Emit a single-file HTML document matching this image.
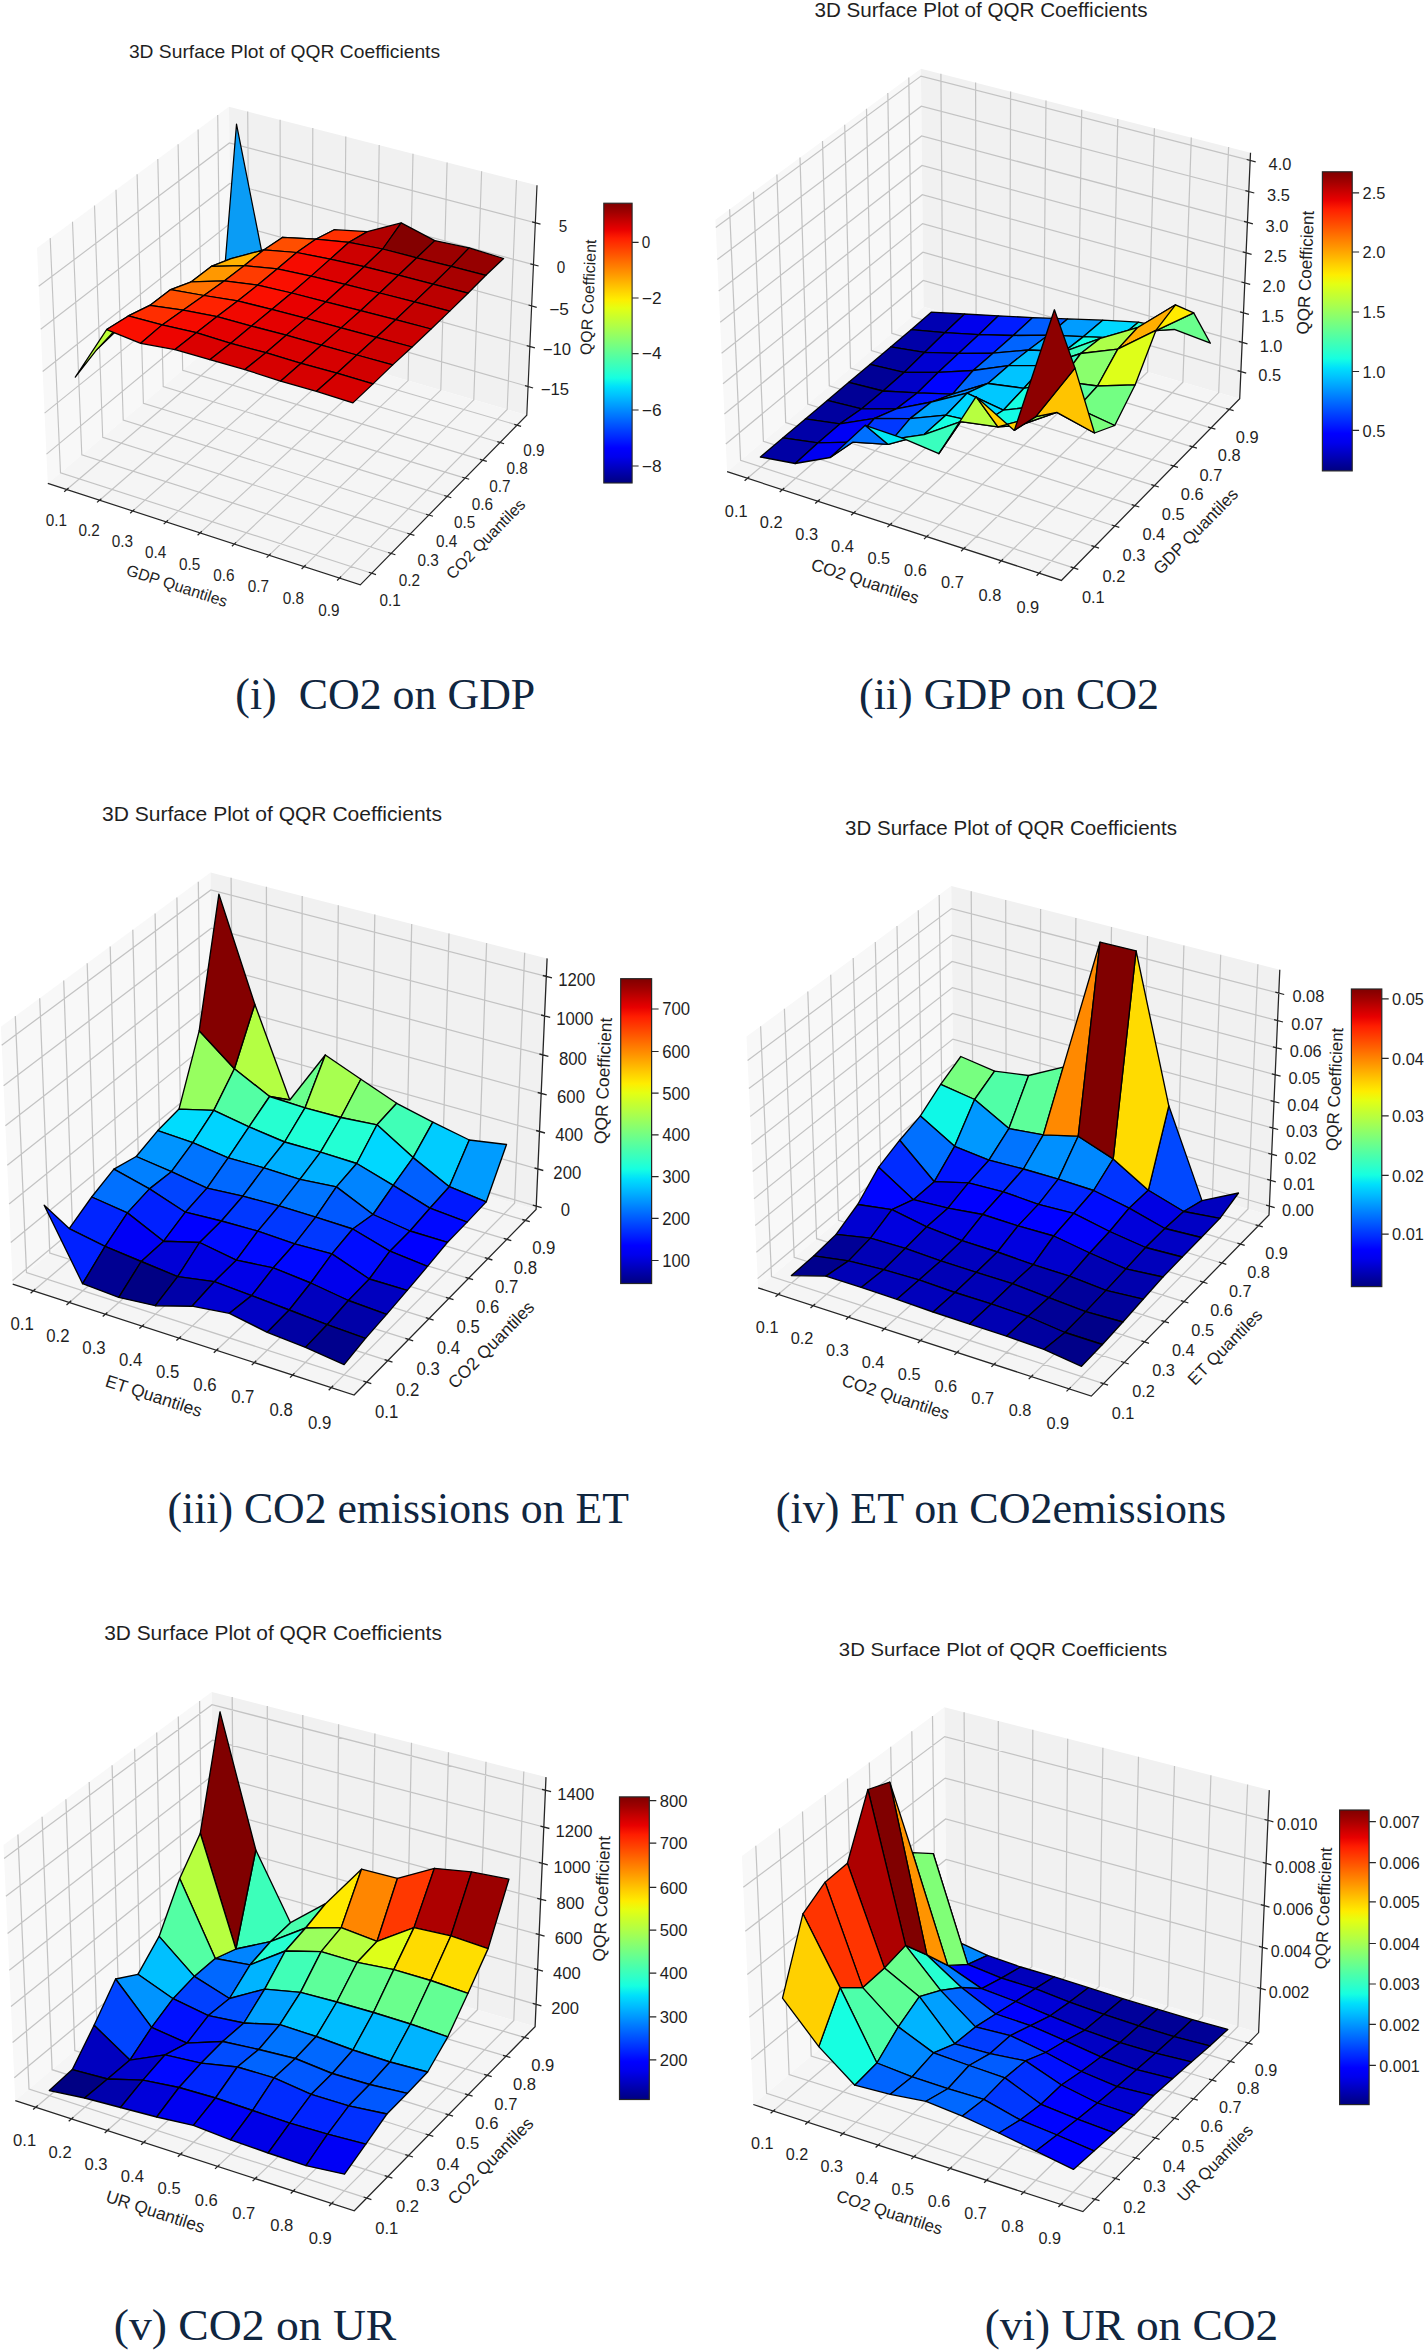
<!DOCTYPE html>
<html><head><meta charset="utf-8"><title>QQR surface plots</title><style>html,body{margin:0;padding:0;background:#fff}svg{display:block}text{font-family:"Liberation Sans",sans-serif}</style></head><body>
<svg width="1424" height="2351" viewBox="0 0 1424 2351">
<defs><linearGradient id="jet" x1="0" y1="0" x2="0" y2="1"><stop offset="0.000" stop-color="#800000"/><stop offset="0.031" stop-color="#9f0000"/><stop offset="0.062" stop-color="#c40000"/><stop offset="0.094" stop-color="#e80000"/><stop offset="0.125" stop-color="#ff1e00"/><stop offset="0.156" stop-color="#ff3b00"/><stop offset="0.188" stop-color="#ff5900"/><stop offset="0.219" stop-color="#ff7700"/><stop offset="0.250" stop-color="#ff9400"/><stop offset="0.281" stop-color="#ffb200"/><stop offset="0.312" stop-color="#ffd000"/><stop offset="0.344" stop-color="#feed00"/><stop offset="0.375" stop-color="#e4ff13"/><stop offset="0.406" stop-color="#caff2c"/><stop offset="0.438" stop-color="#b1ff46"/><stop offset="0.469" stop-color="#97ff60"/><stop offset="0.500" stop-color="#7dff7a"/><stop offset="0.531" stop-color="#63ff94"/><stop offset="0.562" stop-color="#49ffad"/><stop offset="0.594" stop-color="#30ffc7"/><stop offset="0.625" stop-color="#16ffe1"/><stop offset="0.656" stop-color="#00e0fb"/><stop offset="0.688" stop-color="#00c0ff"/><stop offset="0.719" stop-color="#00a0ff"/><stop offset="0.750" stop-color="#0080ff"/><stop offset="0.781" stop-color="#0060ff"/><stop offset="0.812" stop-color="#0040ff"/><stop offset="0.844" stop-color="#0020ff"/><stop offset="0.875" stop-color="#0000ff"/><stop offset="0.906" stop-color="#0000ed"/><stop offset="0.938" stop-color="#0000c8"/><stop offset="0.969" stop-color="#0000a4"/><stop offset="1.000" stop-color="#000080"/></linearGradient></defs>
<rect width="1424" height="2351" fill="#fff"/>
<g id="plot1">
<polygon points="47.8,483.4 231.4,329.3 229.0,106.8 37.0,247.9" fill="#f8f8f8"/>
<polygon points="231.4,329.3 526.8,415.2 537.0,185.3 229.0,106.8" fill="#f1f1f1"/>
<polygon points="47.8,483.4 360.3,584.9 526.8,415.2 231.4,329.3" fill="#f5f5f5"/>
<path d="M66.8,489.5 L249.4,334.5 L247.7,111.6 M50.2,238.1 L60.5,472.8 L371.8,573.2 M99.6,500.2 L280.5,343.6 L280.1,119.8 M72.5,221.7 L81.8,454.9 L391.2,553.5 M132.7,511.0 L311.9,352.7 L312.8,128.1 M94.5,205.6 L102.7,437.4 L410.2,534.1 M166.2,521.9 L343.7,361.9 L345.8,136.6 M116.0,189.8 L123.2,420.1 L428.8,515.1 M200.1,532.9 L375.7,371.2 L379.2,145.1 M137.1,174.3 L143.4,403.2 L447.2,496.4 M234.4,544.0 L408.1,380.6 L413.0,153.7 M157.8,159.1 L163.2,386.6 L465.1,478.1 M269.0,555.3 L440.8,390.1 L447.1,162.4 M178.1,144.2 L182.7,370.2 L482.8,460.1 M304.0,566.6 L473.8,399.8 L481.6,171.2 M198.1,129.5 L201.8,354.2 L500.1,442.5 M339.4,578.1 L507.2,409.5 L516.5,180.1 M217.7,115.1 L220.6,338.4 L517.1,425.1 M38.7,286.3 L229.4,143.0 L535.3,222.8 M40.7,329.2 L229.8,183.5 L533.5,264.6 M42.7,371.5 L230.3,223.4 L531.7,305.9 M44.6,413.1 L230.7,262.8 L529.9,346.5 M46.5,454.1 L231.1,301.5 L528.1,386.5" fill="none" stroke="#c3c3c3" stroke-width="1.15"/>
<g stroke="#000" stroke-width="1.24" stroke-linejoin="round">
<polygon points="219.6,331.5 250.8,301.3 269.6,291.2 236.5,124.2" fill="#0a9cf5"/>
<polygon points="250.8,301.3 282.8,237.3 301.5,278.8 269.6,291.2" fill="#0000ff"/>
<polygon points="199.5,290.4 231.1,258.7 250.8,301.3 219.6,331.5" fill="#000080"/>
<polygon points="282.8,237.3 315.7,239.2 334.3,229.7 301.5,278.8" fill="#dbff1c"/>
<polygon points="231.1,258.7 263.7,249.9 282.8,237.3 250.8,301.3" fill="#80ff77"/>
<polygon points="179.6,297.5 211.3,266.4 231.1,258.7 199.5,290.4" fill="#1cffdb"/>
<polygon points="315.7,239.2 349.0,242.3 367.4,231.6 334.3,229.7" fill="#ff3000"/>
<polygon points="263.7,249.9 296.7,252.5 315.7,239.2 282.8,237.3" fill="#ff4e00"/>
<polygon points="159.5,309.6 191.3,281.8 211.3,266.4 179.6,297.5" fill="#53ffa4"/>
<polygon points="211.3,266.4 244.1,265.7 263.7,249.9 231.1,258.7" fill="#ffb200"/>
<polygon points="349.0,242.3 382.7,249.0 401.2,222.9 367.4,231.6" fill="#b20000"/>
<polygon points="296.7,252.5 330.2,259.1 349.0,242.3 315.7,239.2" fill="#fa0f00"/>
<polygon points="382.7,249.0 416.8,257.8 434.8,240.6 401.2,222.9" fill="#840000"/>
<polygon points="244.1,265.7 277.4,268.8 296.7,252.5 263.7,249.9" fill="#ff3f00"/>
<polygon points="191.3,281.8 224.2,280.9 244.1,265.7 211.3,266.4" fill="#ff9800"/>
<polygon points="330.2,259.1 364.1,266.7 382.7,249.0 349.0,242.3" fill="#cd0000"/>
<polygon points="138.8,319.5 170.7,289.6 191.3,281.8 159.5,309.6" fill="#87ff70"/>
<polygon points="416.8,257.8 451.2,266.4 469.1,247.9 434.8,240.6" fill="#9b0000"/>
<polygon points="277.4,268.8 311.1,276.1 330.2,259.1 296.7,252.5" fill="#f60b00"/>
<polygon points="364.1,266.7 398.4,275.2 416.8,257.8 382.7,249.0" fill="#bb0000"/>
<polygon points="224.2,280.9 257.7,285.1 277.4,268.8 244.1,265.7" fill="#ff3b00"/>
<polygon points="451.2,266.4 485.9,275.3 503.6,258.5 469.1,247.9" fill="#960000"/>
<polygon points="311.1,276.1 345.2,284.3 364.1,266.7 330.2,259.1" fill="#da0000"/>
<polygon points="170.7,289.6 203.9,295.5 224.2,280.9 191.3,281.8" fill="#ff7300"/>
<polygon points="117.7,329.6 149.8,305.4 170.7,289.6 138.8,319.5" fill="#beff39"/>
<polygon points="398.4,275.2 433.0,284.2 451.2,266.4 416.8,257.8" fill="#b20000"/>
<polygon points="257.7,285.1 291.6,293.0 311.1,276.1 277.4,268.8" fill="#fa0f00"/>
<polygon points="345.2,284.3 379.6,293.0 398.4,275.2 364.1,266.7" fill="#cd0000"/>
<polygon points="203.9,295.5 237.6,300.9 257.7,285.1 224.2,280.9" fill="#ff3000"/>
<polygon points="433.0,284.2 468.0,293.2 485.9,275.3 451.2,266.4" fill="#a80000"/>
<polygon points="291.6,293.0 325.9,301.8 345.2,284.3 311.1,276.1" fill="#e80000"/>
<polygon points="149.8,305.4 183.3,310.1 203.9,295.5 170.7,289.6" fill="#ff4e00"/>
<polygon points="96.6,349.9 128.4,315.9 149.8,305.4 117.7,329.6" fill="#d7ff1f"/>
<polygon points="379.6,293.0 414.5,301.9 433.0,284.2 398.4,275.2" fill="#c40000"/>
<polygon points="237.6,300.9 271.7,309.4 291.6,293.0 257.7,285.1" fill="#fa0f00"/>
<polygon points="325.9,301.8 360.5,310.7 379.6,293.0 345.2,284.3" fill="#da0000"/>
<polygon points="183.3,310.1 217.1,316.6 237.6,300.9 203.9,295.5" fill="#ff2200"/>
<polygon points="414.5,301.9 449.7,311.1 468.0,293.2 433.0,284.2" fill="#bb0000"/>
<polygon points="271.7,309.4 306.2,318.4 325.9,301.8 291.6,293.0" fill="#e80000"/>
<polygon points="75.3,377.2 106.6,329.6 128.4,315.9 96.6,349.9" fill="#bdff39"/>
<polygon points="360.5,310.7 395.6,319.7 414.5,301.9 379.6,293.0" fill="#d10000"/>
<polygon points="128.4,315.9 162.1,324.9 183.3,310.1 149.8,305.4" fill="#ff2d00"/>
<polygon points="217.1,316.6 251.5,326.1 271.7,309.4 237.6,300.9" fill="#f10800"/>
<polygon points="306.2,318.4 341.1,327.9 360.5,310.7 325.9,301.8" fill="#df0000"/>
<polygon points="395.6,319.7 431.1,329.0 449.7,311.1 414.5,301.9" fill="#c40000"/>
<polygon points="162.1,324.9 196.3,332.7 217.1,316.6 183.3,310.1" fill="#f60b00"/>
<polygon points="251.5,326.1 286.2,335.2 306.2,318.4 271.7,309.4" fill="#e40000"/>
<polygon points="341.1,327.9 376.4,337.3 395.6,319.7 360.5,310.7" fill="#d60000"/>
<polygon points="106.6,329.6 140.7,343.3 162.1,324.9 128.4,315.9" fill="#fa0f00"/>
<polygon points="196.3,332.7 230.8,343.3 251.5,326.1 217.1,316.6" fill="#e40000"/>
<polygon points="286.2,335.2 321.3,345.2 341.1,327.9 306.2,318.4" fill="#da0000"/>
<polygon points="376.4,337.3 412.1,347.0 431.1,329.0 395.6,319.7" fill="#cd0000"/>
<polygon points="140.7,343.3 175.0,349.6 196.3,332.7 162.1,324.9" fill="#ed0400"/>
<polygon points="230.8,343.3 265.8,352.7 286.2,335.2 251.5,326.1" fill="#df0000"/>
<polygon points="321.3,345.2 356.8,355.0 376.4,337.3 341.1,327.9" fill="#d60000"/>
<polygon points="175.0,349.6 209.8,359.7 230.8,343.3 196.3,332.7" fill="#da0000"/>
<polygon points="265.8,352.7 301.1,363.3 321.3,345.2 286.2,335.2" fill="#da0000"/>
<polygon points="356.8,355.0 392.7,364.9 412.1,347.0 376.4,337.3" fill="#cd0000"/>
<polygon points="209.8,359.7 244.9,369.6 265.8,352.7 230.8,343.3" fill="#d60000"/>
<polygon points="301.1,363.3 336.9,373.2 356.8,355.0 321.3,345.2" fill="#d60000"/>
<polygon points="244.9,369.6 280.5,381.2 301.1,363.3 265.8,352.7" fill="#d60000"/>
<polygon points="336.9,373.2 373.0,383.9 392.7,364.9 356.8,355.0" fill="#d10000"/>
<polygon points="280.5,381.2 316.5,391.3 336.9,373.2 301.1,363.3" fill="#d60000"/>
<polygon points="316.5,391.3 352.9,402.9 373.0,383.9 336.9,373.2" fill="#d60000"/>
</g>
<path d="M47.8,483.4 L360.3,584.9 L526.8,415.2 L537.0,185.3 M64.2,491.7 L68.6,488.0 M376.0,574.6 L368.8,572.3 M97.0,502.4 L101.4,498.7 M395.4,554.8 L388.2,552.5 M130.2,513.2 L134.5,509.4 M414.4,535.4 L407.3,533.2 M163.7,524.1 L168.0,520.3 M433.0,516.3 L426.0,514.2 M197.6,535.2 L201.8,531.3 M451.3,497.7 L444.3,495.5 M231.9,546.3 L236.1,542.4 M469.2,479.3 L462.3,477.2 M266.6,557.6 L270.7,553.6 M486.8,461.3 L479.9,459.3 M301.6,569.0 L305.7,565.0 M504.1,443.7 L497.3,441.6 M337.1,580.5 L341.1,576.5 M521.1,426.3 L514.3,424.3 M540.5,224.1 L532.1,221.9 M538.6,266.0 L530.3,263.8 M536.7,307.3 L528.5,305.0 M534.9,347.9 L526.7,345.6 M533.1,388.0 L525.0,385.6" fill="none" stroke="#262626" stroke-width="1.20"/>
<text x="56.4" y="525.5" font-size="16.0" text-anchor="middle" fill="#1f1f1f" font-family="Liberation Sans" textLength="21.3" lengthAdjust="spacingAndGlyphs">0.1</text>
<text x="390.1" y="606.1" font-size="16.0" text-anchor="middle" fill="#1f1f1f" font-family="Liberation Sans" textLength="21.3" lengthAdjust="spacingAndGlyphs">0.1</text>
<text x="89.1" y="536.3" font-size="16.0" text-anchor="middle" fill="#1f1f1f" font-family="Liberation Sans" textLength="21.3" lengthAdjust="spacingAndGlyphs">0.2</text>
<text x="409.3" y="586.1" font-size="16.0" text-anchor="middle" fill="#1f1f1f" font-family="Liberation Sans" textLength="21.3" lengthAdjust="spacingAndGlyphs">0.2</text>
<text x="122.3" y="547.3" font-size="16.0" text-anchor="middle" fill="#1f1f1f" font-family="Liberation Sans" textLength="21.3" lengthAdjust="spacingAndGlyphs">0.3</text>
<text x="428.1" y="566.4" font-size="16.0" text-anchor="middle" fill="#1f1f1f" font-family="Liberation Sans" textLength="21.3" lengthAdjust="spacingAndGlyphs">0.3</text>
<text x="155.7" y="558.3" font-size="16.0" text-anchor="middle" fill="#1f1f1f" font-family="Liberation Sans" textLength="21.3" lengthAdjust="spacingAndGlyphs">0.4</text>
<text x="446.6" y="547.2" font-size="16.0" text-anchor="middle" fill="#1f1f1f" font-family="Liberation Sans" textLength="21.3" lengthAdjust="spacingAndGlyphs">0.4</text>
<text x="189.6" y="569.5" font-size="16.0" text-anchor="middle" fill="#1f1f1f" font-family="Liberation Sans" textLength="21.3" lengthAdjust="spacingAndGlyphs">0.5</text>
<text x="464.7" y="528.3" font-size="16.0" text-anchor="middle" fill="#1f1f1f" font-family="Liberation Sans" textLength="21.3" lengthAdjust="spacingAndGlyphs">0.5</text>
<text x="223.8" y="580.8" font-size="16.0" text-anchor="middle" fill="#1f1f1f" font-family="Liberation Sans" textLength="21.3" lengthAdjust="spacingAndGlyphs">0.6</text>
<text x="482.5" y="509.8" font-size="16.0" text-anchor="middle" fill="#1f1f1f" font-family="Liberation Sans" textLength="21.3" lengthAdjust="spacingAndGlyphs">0.6</text>
<text x="258.4" y="592.3" font-size="16.0" text-anchor="middle" fill="#1f1f1f" font-family="Liberation Sans" textLength="21.3" lengthAdjust="spacingAndGlyphs">0.7</text>
<text x="499.9" y="491.6" font-size="16.0" text-anchor="middle" fill="#1f1f1f" font-family="Liberation Sans" textLength="21.3" lengthAdjust="spacingAndGlyphs">0.7</text>
<text x="293.4" y="603.9" font-size="16.0" text-anchor="middle" fill="#1f1f1f" font-family="Liberation Sans" textLength="21.3" lengthAdjust="spacingAndGlyphs">0.8</text>
<text x="517.1" y="473.7" font-size="16.0" text-anchor="middle" fill="#1f1f1f" font-family="Liberation Sans" textLength="21.3" lengthAdjust="spacingAndGlyphs">0.8</text>
<text x="328.8" y="615.6" font-size="16.0" text-anchor="middle" fill="#1f1f1f" font-family="Liberation Sans" textLength="21.3" lengthAdjust="spacingAndGlyphs">0.9</text>
<text x="533.9" y="456.2" font-size="16.0" text-anchor="middle" fill="#1f1f1f" font-family="Liberation Sans" textLength="21.3" lengthAdjust="spacingAndGlyphs">0.9</text>
<text x="563.1" y="231.5" font-size="16.0" text-anchor="middle" fill="#1f1f1f" font-family="Liberation Sans" textLength="8.5" lengthAdjust="spacingAndGlyphs">5</text>
<text x="561.0" y="273.4" font-size="16.0" text-anchor="middle" fill="#1f1f1f" font-family="Liberation Sans" textLength="8.5" lengthAdjust="spacingAndGlyphs">0</text>
<text x="559.0" y="314.7" font-size="16.0" text-anchor="middle" fill="#1f1f1f" font-family="Liberation Sans" textLength="19.7" lengthAdjust="spacingAndGlyphs">−5</text>
<text x="557.0" y="355.4" font-size="16.0" text-anchor="middle" fill="#1f1f1f" font-family="Liberation Sans" textLength="28.3" lengthAdjust="spacingAndGlyphs">−10</text>
<text x="555.0" y="395.4" font-size="16.0" text-anchor="middle" fill="#1f1f1f" font-family="Liberation Sans" textLength="28.3" lengthAdjust="spacingAndGlyphs">−15</text>
<text x="177.1" y="591.2" font-size="16.0" text-anchor="middle" fill="#1f1f1f" font-family="Liberation Sans" textLength="105.1" lengthAdjust="spacingAndGlyphs" transform="rotate(18.0 177.1 585.4)">GDP Quantiles</text>
<text x="485.5" y="544.5" font-size="16.0" text-anchor="middle" fill="#1f1f1f" font-family="Liberation Sans" textLength="104.7" lengthAdjust="spacingAndGlyphs" transform="rotate(-45.5 485.5 538.8)">CO2 Quantiles</text>
<text x="588.0" y="303.1" font-size="16.0" text-anchor="middle" fill="#1f1f1f" font-family="Liberation Sans" textLength="115.7" lengthAdjust="spacingAndGlyphs" transform="rotate(-87.5 588.0 297.3)">QQR Coefficient</text>
<text x="284.5" y="57.5" font-size="18.1" text-anchor="middle" fill="#1f1f1f" font-family="Liberation Sans" textLength="311.2" lengthAdjust="spacingAndGlyphs">3D Surface Plot of QQR Coefficients</text>
<rect x="603.8" y="203.2" width="28.3" height="279.8" fill="url(#jet)" stroke="#262626" stroke-width="1.11"/>
<text x="641.8" y="248.2" font-size="16.0" text-anchor="start" fill="#1f1f1f" font-family="Liberation Sans" textLength="8.5" lengthAdjust="spacingAndGlyphs">0</text>
<text x="641.8" y="303.8" font-size="16.0" text-anchor="start" fill="#1f1f1f" font-family="Liberation Sans" textLength="19.7" lengthAdjust="spacingAndGlyphs">−2</text>
<text x="641.8" y="359.4" font-size="16.0" text-anchor="start" fill="#1f1f1f" font-family="Liberation Sans" textLength="19.7" lengthAdjust="spacingAndGlyphs">−4</text>
<text x="641.8" y="415.8" font-size="16.0" text-anchor="start" fill="#1f1f1f" font-family="Liberation Sans" textLength="19.7" lengthAdjust="spacingAndGlyphs">−6</text>
<text x="641.8" y="471.8" font-size="16.0" text-anchor="start" fill="#1f1f1f" font-family="Liberation Sans" textLength="19.7" lengthAdjust="spacingAndGlyphs">−8</text>
<path d="M632.1,242.4 h6.5 M632.1,298.0 h6.5 M632.1,353.6 h6.5 M632.1,410.0 h6.5 M632.1,466.0 h6.5" stroke="#262626" stroke-width="1.11"/>
</g>
<g id="plot2">
<polygon points="727.1,471.7 923.5,306.8 920.9,68.7 715.4,219.7" fill="#f8f8f8"/>
<polygon points="923.5,306.8 1239.7,398.7 1250.5,152.7 920.9,68.7" fill="#f1f1f1"/>
<polygon points="727.1,471.7 1061.4,580.4 1239.7,398.7 923.5,306.8" fill="#f5f5f5"/>
<path d="M747.4,478.3 L942.8,312.4 L940.9,73.8 M729.6,209.3 L740.6,460.4 L1073.7,567.9 M782.4,489.7 L976.1,322.1 L975.6,82.6 M753.5,191.7 L763.4,441.3 L1094.5,546.7 M817.9,501.2 L1009.7,331.9 L1010.6,91.6 M776.9,174.5 L785.7,422.5 L1114.8,526.0 M853.8,512.9 L1043.6,341.7 L1046.0,100.6 M800.0,157.6 L807.7,404.0 L1134.8,505.6 M890.0,524.7 L1077.9,351.7 L1081.7,109.7 M822.5,141.0 L829.3,385.9 L1154.4,485.7 M926.7,536.6 L1112.6,361.8 L1117.8,118.9 M844.7,124.7 L850.5,368.1 L1173.6,466.1 M963.7,548.7 L1147.6,372.0 L1154.4,128.2 M866.5,108.7 L871.4,350.6 L1192.5,446.8 M1001.2,560.8 L1182.9,382.2 L1191.3,137.6 M887.8,93.0 L891.8,333.4 L1211.0,427.9 M1039.1,573.2 L1218.7,392.6 L1228.6,147.1 M908.8,77.6 L911.9,316.6 L1229.2,409.4 M715.8,227.6 L921.0,76.1 L1250.2,160.4 M717.3,259.5 L921.3,106.2 L1248.8,191.5 M718.7,291.1 L921.6,136.0 L1247.5,222.3 M720.2,322.3 L922.0,165.5 L1246.1,252.8 M721.6,353.2 L922.3,194.7 L1244.8,282.9 M723.0,383.8 L922.6,223.6 L1243.5,312.8 M724.4,414.0 L922.9,252.2 L1242.2,342.3 M725.8,444.0 L923.2,280.5 L1240.9,371.6" fill="none" stroke="#c3c3c3" stroke-width="1.23"/>
<g stroke="#000" stroke-width="1.33" stroke-linejoin="round">
<polygon points="911.1,329.7 944.7,332.7 964.6,314.0 931.2,312.2" fill="#0000b2"/>
<polygon points="944.7,332.7 978.7,334.7 998.4,315.8 964.6,314.0" fill="#0000ed"/>
<polygon points="890.7,346.9 924.5,352.4 944.7,332.7 911.1,329.7" fill="#0000a8"/>
<polygon points="978.7,334.7 1013.2,335.5 1032.7,317.6 998.4,315.8" fill="#001cff"/>
<polygon points="924.5,352.4 958.7,353.3 978.7,334.7 944.7,332.7" fill="#0000df"/>
<polygon points="870.0,364.4 904.0,372.4 924.5,352.4 890.7,346.9" fill="#00009f"/>
<polygon points="1013.2,335.5 1048.1,335.2 1067.5,318.9 1032.7,317.6" fill="#005cff"/>
<polygon points="958.7,353.3 993.3,353.1 1013.2,335.5 978.7,334.7" fill="#0018ff"/>
<polygon points="904.0,372.4 938.3,372.3 958.7,353.3 924.5,352.4" fill="#0000d1"/>
<polygon points="848.8,382.3 883.0,391.0 904.0,372.4 870.0,364.4" fill="#000096"/>
<polygon points="1048.1,335.2 1083.5,336.6 1102.7,320.2 1067.5,318.9" fill="#009cff"/>
<polygon points="993.3,353.1 1028.4,350.0 1048.1,335.2 1013.2,335.5" fill="#0064ff"/>
<polygon points="938.3,372.3 973.1,370.5 993.3,353.1 958.7,353.3" fill="#0014ff"/>
<polygon points="883.0,391.0 917.5,392.8 938.3,372.3 904.0,372.4" fill="#0000c8"/>
<polygon points="1083.5,336.6 1119.4,338.1 1138.3,322.2 1102.7,320.2" fill="#00d8ff"/>
<polygon points="827.3,400.4 861.7,408.8 883.0,391.0 848.8,382.3" fill="#000096"/>
<polygon points="1028.4,350.0 1064.1,351.6 1083.5,336.6 1048.1,335.2" fill="#00acff"/>
<polygon points="973.1,370.5 1008.4,365.7 1028.4,350.0 993.3,353.1" fill="#006cff"/>
<polygon points="917.5,392.8 952.5,394.1 973.1,370.5 938.3,372.3" fill="#0004ff"/>
<polygon points="1119.4,338.1 1156.0,330.7 1174.3,329.4 1138.3,322.2" fill="#29ffce"/>
<polygon points="861.7,408.8 896.3,408.9 917.5,392.8 883.0,391.0" fill="#0000c8"/>
<polygon points="1064.1,351.6 1100.4,338.3 1119.4,338.1 1083.5,336.6" fill="#16ffe1"/>
<polygon points="805.4,418.9 839.9,423.9 861.7,408.8 827.3,400.4" fill="#00009f"/>
<polygon points="1008.4,365.7 1044.2,365.6 1064.1,351.6 1028.4,350.0" fill="#00c0ff"/>
<polygon points="952.5,394.1 987.9,383.5 1008.4,365.7 973.1,370.5" fill="#0068ff"/>
<polygon points="1156.0,330.7 1193.7,312.9 1210.4,343.2 1174.3,329.4" fill="#6aff8d"/>
<polygon points="896.3,408.9 931.4,402.0 952.5,394.1 917.5,392.8" fill="#0010ff"/>
<polygon points="839.9,423.9 874.6,418.3 896.3,408.9 861.7,408.8" fill="#0000e3"/>
<polygon points="1100.4,338.3 1137.4,327.7 1156.0,330.7 1119.4,338.1" fill="#7aff7d"/>
<polygon points="1044.2,365.6 1080.7,353.5 1100.4,338.3 1064.1,351.6" fill="#3cffba"/>
<polygon points="783.1,437.8 817.8,442.9 839.9,423.9 805.4,418.9" fill="#0000a8"/>
<polygon points="987.9,383.5 1023.9,388.3 1044.2,365.6 1008.4,365.7" fill="#00c4ff"/>
<polygon points="931.4,402.0 967.0,393.2 987.9,383.5 952.5,394.1" fill="#0084ff"/>
<polygon points="874.6,418.3 910.0,418.6 931.4,402.0 896.3,408.9" fill="#0038ff"/>
<polygon points="817.8,442.9 852.7,442.2 874.6,418.3 839.9,423.9" fill="#0000f6"/>
<polygon points="1137.4,327.7 1175.5,304.8 1193.7,312.9 1156.0,330.7" fill="#ffea00"/>
<polygon points="1080.7,353.5 1117.8,349.1 1137.4,327.7 1100.4,338.3" fill="#adff49"/>
<polygon points="1023.9,388.3 1060.5,381.1 1080.7,353.5 1044.2,365.6" fill="#36ffc1"/>
<polygon points="760.4,457.0 795.2,463.5 817.8,442.9 783.1,437.8" fill="#0000a4"/>
<polygon points="967.0,393.2 1003.3,410.2 1023.9,388.3 987.9,383.5" fill="#00c8ff"/>
<polygon points="910.0,418.6 945.8,415.2 967.0,393.2 931.4,402.0" fill="#00a4ff"/>
<polygon points="852.7,442.2 888.2,444.4 910.0,418.6 874.6,418.3" fill="#0038ff"/>
<polygon points="795.2,463.5 830.2,457.5 852.7,442.2 817.8,442.9" fill="#0000f1"/>
<polygon points="1060.5,381.1 1097.5,386.0 1117.8,349.1 1080.7,353.5" fill="#8aff6d"/>
<polygon points="1003.3,410.2 1040.0,406.1 1060.5,381.1 1023.9,388.3" fill="#16ffe1"/>
<polygon points="1117.8,349.1 1155.9,330.4 1175.5,304.8 1137.4,327.7" fill="#ffae00"/>
<polygon points="945.8,415.2 982.2,423.4 1003.3,410.2 967.0,393.2" fill="#00d8ff"/>
<polygon points="888.2,444.4 924.1,434.6 945.8,415.2 910.0,418.6" fill="#0098ff"/>
<polygon points="1040.0,406.1 1077.2,408.1 1097.5,386.0 1060.5,381.1" fill="#5aff9d"/>
<polygon points="1097.5,386.0 1135.2,384.8 1155.9,330.4 1117.8,349.1" fill="#deff19"/>
<polygon points="830.2,457.5 865.2,425.3 888.2,444.4 852.7,442.2" fill="#0070ff"/>
<polygon points="982.2,423.4 1019.2,425.5 1040.0,406.1 1003.3,410.2" fill="#13fce4"/>
<polygon points="924.1,434.6 960.7,421.6 982.2,423.4 945.8,415.2" fill="#16ffe1"/>
<polygon points="1077.2,408.1 1114.7,425.5 1135.2,384.8 1097.5,386.0" fill="#73ff83"/>
<polygon points="865.2,425.3 901.8,437.9 924.1,434.6 888.2,444.4" fill="#02e8f4"/>
<polygon points="1019.2,425.5 1056.8,412.3 1077.2,408.1 1040.0,406.1" fill="#60ff97"/>
<polygon points="960.7,421.6 997.9,426.8 1019.2,425.5 982.2,423.4" fill="#50ffa7"/>
<polygon points="1056.8,412.3 1094.5,433.0 1114.7,425.5 1077.2,408.1" fill="#7aff7d"/>
<polygon points="901.8,437.9 938.9,453.7 960.7,421.6 924.1,434.6" fill="#39ffbe"/>
<polygon points="997.9,426.8 1035.8,416.6 1056.8,412.3 1019.2,425.5" fill="#a0ff56"/>
<polygon points="938.9,453.7 976.1,396.7 997.9,426.8 960.7,421.6" fill="#b7ff40"/>
<polygon points="1035.8,416.6 1075.0,368.1 1094.5,433.0 1056.8,412.3" fill="#ffc400"/>
<polygon points="976.1,396.7 1014.3,430.4 1035.8,416.6 997.9,426.8" fill="#ffd000"/>
<polygon points="1014.3,430.4 1054.4,309.8 1075.0,368.1 1035.8,416.6" fill="#8d0000"/>
</g>
<path d="M727.1,471.7 L1061.4,580.4 L1239.7,398.7 L1250.5,152.7 M744.6,480.7 L749.3,476.7 M1078.3,569.3 L1070.6,566.9 M779.7,492.1 L784.3,488.1 M1099.0,548.2 L1091.4,545.7 M815.2,503.6 L819.8,499.6 M1119.3,527.4 L1111.7,525.0 M851.1,515.3 L855.6,511.2 M1139.3,507.0 L1131.7,504.7 M887.4,527.1 L891.9,523.0 M1158.8,487.0 L1151.3,484.7 M924.0,539.1 L928.5,534.9 M1178.0,467.4 L1170.6,465.1 M961.1,551.2 L965.5,546.9 M1196.9,448.1 L1189.5,445.9 M998.7,563.4 L1003.0,559.1 M1215.4,429.2 L1208.0,427.0 M1036.6,575.7 L1040.9,571.4 M1233.6,410.6 L1226.2,408.5 M1255.7,161.8 L1246.7,159.5 M1254.3,193.0 L1245.4,190.6 M1252.9,223.8 L1244.0,221.4 M1251.6,254.3 L1242.7,251.9 M1250.2,284.4 L1241.4,282.0 M1248.9,314.3 L1240.1,311.9 M1247.5,343.9 L1238.8,341.4 M1246.2,373.1 L1237.6,370.6" fill="none" stroke="#262626" stroke-width="1.28"/>
<text x="736.2" y="516.8" font-size="17.2" text-anchor="middle" fill="#1f1f1f" font-family="Liberation Sans" textLength="22.8" lengthAdjust="spacingAndGlyphs">0.1</text>
<text x="1093.3" y="603.0" font-size="17.2" text-anchor="middle" fill="#1f1f1f" font-family="Liberation Sans" textLength="22.8" lengthAdjust="spacingAndGlyphs">0.1</text>
<text x="771.2" y="528.4" font-size="17.2" text-anchor="middle" fill="#1f1f1f" font-family="Liberation Sans" textLength="22.8" lengthAdjust="spacingAndGlyphs">0.2</text>
<text x="1113.9" y="581.6" font-size="17.2" text-anchor="middle" fill="#1f1f1f" font-family="Liberation Sans" textLength="22.8" lengthAdjust="spacingAndGlyphs">0.2</text>
<text x="806.7" y="540.1" font-size="17.2" text-anchor="middle" fill="#1f1f1f" font-family="Liberation Sans" textLength="22.8" lengthAdjust="spacingAndGlyphs">0.3</text>
<text x="1134.0" y="560.6" font-size="17.2" text-anchor="middle" fill="#1f1f1f" font-family="Liberation Sans" textLength="22.8" lengthAdjust="spacingAndGlyphs">0.3</text>
<text x="842.5" y="551.9" font-size="17.2" text-anchor="middle" fill="#1f1f1f" font-family="Liberation Sans" textLength="22.8" lengthAdjust="spacingAndGlyphs">0.4</text>
<text x="1153.8" y="540.0" font-size="17.2" text-anchor="middle" fill="#1f1f1f" font-family="Liberation Sans" textLength="22.8" lengthAdjust="spacingAndGlyphs">0.4</text>
<text x="878.8" y="563.9" font-size="17.2" text-anchor="middle" fill="#1f1f1f" font-family="Liberation Sans" textLength="22.8" lengthAdjust="spacingAndGlyphs">0.5</text>
<text x="1173.2" y="519.8" font-size="17.2" text-anchor="middle" fill="#1f1f1f" font-family="Liberation Sans" textLength="22.8" lengthAdjust="spacingAndGlyphs">0.5</text>
<text x="915.4" y="576.0" font-size="17.2" text-anchor="middle" fill="#1f1f1f" font-family="Liberation Sans" textLength="22.8" lengthAdjust="spacingAndGlyphs">0.6</text>
<text x="1192.2" y="500.0" font-size="17.2" text-anchor="middle" fill="#1f1f1f" font-family="Liberation Sans" textLength="22.8" lengthAdjust="spacingAndGlyphs">0.6</text>
<text x="952.4" y="588.3" font-size="17.2" text-anchor="middle" fill="#1f1f1f" font-family="Liberation Sans" textLength="22.8" lengthAdjust="spacingAndGlyphs">0.7</text>
<text x="1210.9" y="480.5" font-size="17.2" text-anchor="middle" fill="#1f1f1f" font-family="Liberation Sans" textLength="22.8" lengthAdjust="spacingAndGlyphs">0.7</text>
<text x="989.9" y="600.7" font-size="17.2" text-anchor="middle" fill="#1f1f1f" font-family="Liberation Sans" textLength="22.8" lengthAdjust="spacingAndGlyphs">0.8</text>
<text x="1229.2" y="461.4" font-size="17.2" text-anchor="middle" fill="#1f1f1f" font-family="Liberation Sans" textLength="22.8" lengthAdjust="spacingAndGlyphs">0.8</text>
<text x="1027.8" y="613.2" font-size="17.2" text-anchor="middle" fill="#1f1f1f" font-family="Liberation Sans" textLength="22.8" lengthAdjust="spacingAndGlyphs">0.9</text>
<text x="1247.2" y="442.6" font-size="17.2" text-anchor="middle" fill="#1f1f1f" font-family="Liberation Sans" textLength="22.8" lengthAdjust="spacingAndGlyphs">0.9</text>
<text x="1280.0" y="169.7" font-size="17.2" text-anchor="middle" fill="#1f1f1f" font-family="Liberation Sans" textLength="22.8" lengthAdjust="spacingAndGlyphs">4.0</text>
<text x="1278.5" y="200.9" font-size="17.2" text-anchor="middle" fill="#1f1f1f" font-family="Liberation Sans" textLength="22.8" lengthAdjust="spacingAndGlyphs">3.5</text>
<text x="1277.0" y="231.7" font-size="17.2" text-anchor="middle" fill="#1f1f1f" font-family="Liberation Sans" textLength="22.8" lengthAdjust="spacingAndGlyphs">3.0</text>
<text x="1275.5" y="262.2" font-size="17.2" text-anchor="middle" fill="#1f1f1f" font-family="Liberation Sans" textLength="22.8" lengthAdjust="spacingAndGlyphs">2.5</text>
<text x="1274.0" y="292.4" font-size="17.2" text-anchor="middle" fill="#1f1f1f" font-family="Liberation Sans" textLength="22.8" lengthAdjust="spacingAndGlyphs">2.0</text>
<text x="1272.6" y="322.3" font-size="17.2" text-anchor="middle" fill="#1f1f1f" font-family="Liberation Sans" textLength="22.8" lengthAdjust="spacingAndGlyphs">1.5</text>
<text x="1271.1" y="351.8" font-size="17.2" text-anchor="middle" fill="#1f1f1f" font-family="Liberation Sans" textLength="22.8" lengthAdjust="spacingAndGlyphs">1.0</text>
<text x="1269.7" y="381.1" font-size="17.2" text-anchor="middle" fill="#1f1f1f" font-family="Liberation Sans" textLength="22.8" lengthAdjust="spacingAndGlyphs">0.5</text>
<text x="865.3" y="587.1" font-size="17.2" text-anchor="middle" fill="#1f1f1f" font-family="Liberation Sans" textLength="112.0" lengthAdjust="spacingAndGlyphs" transform="rotate(18.0 865.3 580.9)">CO2 Quantiles</text>
<text x="1195.4" y="537.2" font-size="17.2" text-anchor="middle" fill="#1f1f1f" font-family="Liberation Sans" textLength="112.5" lengthAdjust="spacingAndGlyphs" transform="rotate(-45.5 1195.4 531.0)">GDP Quantiles</text>
<text x="1305.1" y="278.8" font-size="17.2" text-anchor="middle" fill="#1f1f1f" font-family="Liberation Sans" textLength="123.8" lengthAdjust="spacingAndGlyphs" transform="rotate(-87.5 1305.1 272.6)">QQR Coefficient</text>
<text x="981.0" y="17.0" font-size="19.3" text-anchor="middle" fill="#1f1f1f" font-family="Liberation Sans" textLength="333.1" lengthAdjust="spacingAndGlyphs">3D Surface Plot of QQR Coefficients</text>
<rect x="1322.4" y="171.8" width="29.8" height="299.1" fill="url(#jet)" stroke="#262626" stroke-width="1.18"/>
<text x="1362.6" y="199.0" font-size="17.2" text-anchor="start" fill="#1f1f1f" font-family="Liberation Sans" textLength="22.8" lengthAdjust="spacingAndGlyphs">2.5</text>
<text x="1362.6" y="258.2" font-size="17.2" text-anchor="start" fill="#1f1f1f" font-family="Liberation Sans" textLength="22.8" lengthAdjust="spacingAndGlyphs">2.0</text>
<text x="1362.6" y="318.2" font-size="17.2" text-anchor="start" fill="#1f1f1f" font-family="Liberation Sans" textLength="22.8" lengthAdjust="spacingAndGlyphs">1.5</text>
<text x="1362.6" y="377.7" font-size="17.2" text-anchor="start" fill="#1f1f1f" font-family="Liberation Sans" textLength="22.8" lengthAdjust="spacingAndGlyphs">1.0</text>
<text x="1362.6" y="436.6" font-size="17.2" text-anchor="start" fill="#1f1f1f" font-family="Liberation Sans" textLength="22.8" lengthAdjust="spacingAndGlyphs">0.5</text>
<path d="M1352.2,192.8 h6.9 M1352.2,252.0 h6.9 M1352.2,312.0 h6.9 M1352.2,371.5 h6.9 M1352.2,430.4 h6.9" stroke="#262626" stroke-width="1.18"/>
</g>
<g id="plot3">
<polygon points="12.7,1284.1 213.3,1115.7 210.6,872.6 0.9,1026.8" fill="#f8f8f8"/>
<polygon points="213.3,1115.7 536.1,1209.5 547.1,958.4 210.6,872.6" fill="#f1f1f1"/>
<polygon points="12.7,1284.1 354.1,1395.0 536.1,1209.5 213.3,1115.7" fill="#f5f5f5"/>
<path d="M33.5,1290.8 L233.0,1121.5 L231.1,877.8 M15.3,1016.1 L26.5,1272.5 L366.7,1382.2 M69.3,1302.4 L266.9,1131.3 L266.4,886.8 M39.7,998.2 L49.8,1253.0 L387.8,1360.6 M105.5,1314.2 L301.3,1141.3 L302.2,896.0 M63.7,980.6 L72.7,1233.8 L408.6,1339.4 M142.1,1326.1 L335.9,1151.4 L338.3,905.2 M87.2,963.3 L95.1,1214.9 L429.0,1318.7 M179.1,1338.1 L370.9,1161.5 L374.8,914.5 M110.2,946.4 L117.1,1196.4 L449.0,1298.3 M216.5,1350.3 L406.3,1171.8 L411.7,923.9 M132.8,929.8 L138.8,1178.3 L468.6,1278.3 M254.4,1362.6 L442.0,1182.2 L449.0,933.4 M155.1,913.4 L160.1,1160.4 L487.9,1258.6 M292.6,1375.0 L478.1,1192.7 L486.6,943.0 M176.9,897.4 L181.0,1142.9 L506.8,1239.4 M331.3,1387.6 L514.6,1203.3 L524.7,952.7 M198.3,881.7 L201.5,1125.7 L525.4,1220.4 M1.7,1045.2 L210.8,890.0 L546.3,976.4 M3.6,1085.8 L211.2,928.2 L544.6,1015.9 M5.4,1125.7 L211.7,966.0 L542.9,1054.9 M7.3,1165.2 L212.1,1003.2 L541.2,1093.4 M9.1,1204.1 L212.5,1040.1 L539.5,1131.4 M10.8,1242.6 L212.9,1076.4 L537.9,1169.0 M12.6,1280.5 L213.3,1112.4 L536.2,1206.1" fill="none" stroke="#c3c3c3" stroke-width="1.26"/>
<g stroke="#000" stroke-width="1.36" stroke-linejoin="round">
<polygon points="234.4,1068.7 269.6,1096.5 289.8,1100.0 254.8,1004.2" fill="#b4ff43"/>
<polygon points="179.0,1109.1 213.8,1110.4 234.4,1068.7 199.2,1030.8" fill="#97ff60"/>
<polygon points="269.6,1096.5 305.0,1107.9 325.3,1055.0 289.8,1100.0" fill="#6aff8d"/>
<polygon points="199.2,1030.8 234.4,1068.7 254.8,1004.2 218.9,894.2" fill="#840000"/>
<polygon points="213.8,1110.4 249.0,1126.8 269.6,1096.5 234.4,1068.7" fill="#53ffa4"/>
<polygon points="157.8,1130.6 192.8,1142.6 213.8,1110.4 179.0,1109.1" fill="#00dcfe"/>
<polygon points="305.0,1107.9 340.8,1117.5 360.9,1079.3 325.3,1055.0" fill="#a7ff50"/>
<polygon points="249.0,1126.8 284.6,1142.0 305.0,1107.9 269.6,1096.5" fill="#26ffd1"/>
<polygon points="192.8,1142.6 228.2,1157.8 249.0,1126.8 213.8,1110.4" fill="#00d4ff"/>
<polygon points="340.8,1117.5 377.0,1124.8 396.7,1103.3 360.9,1079.3" fill="#80ff77"/>
<polygon points="136.2,1156.5 171.4,1171.7 192.8,1142.6 157.8,1130.6" fill="#0094ff"/>
<polygon points="284.6,1142.0 320.5,1152.1 340.8,1117.5 305.0,1107.9" fill="#1fffd7"/>
<polygon points="228.2,1157.8 263.9,1167.9 284.6,1142.0 249.0,1126.8" fill="#00b8ff"/>
<polygon points="377.0,1124.8 413.1,1157.6 432.8,1122.2 396.7,1103.3" fill="#40ffb7"/>
<polygon points="171.4,1171.7 207.0,1188.1 228.2,1157.8 192.8,1142.6" fill="#0074ff"/>
<polygon points="413.1,1157.6 449.3,1186.7 469.3,1140.0 432.8,1122.2" fill="#00ccff"/>
<polygon points="320.5,1152.1 356.7,1163.5 377.0,1124.8 340.8,1117.5" fill="#23ffd4"/>
<polygon points="263.9,1167.9 299.9,1179.3 320.5,1152.1 284.6,1142.0" fill="#00b0ff"/>
<polygon points="113.9,1169.2 149.5,1188.9 171.4,1171.7 136.2,1156.5" fill="#0080ff"/>
<polygon points="207.0,1188.1 242.8,1196.2 263.9,1167.9 228.2,1157.8" fill="#0068ff"/>
<polygon points="356.7,1163.5 393.2,1185.4 413.1,1157.6 377.0,1124.8" fill="#00d8ff"/>
<polygon points="449.3,1186.7 486.2,1201.9 506.5,1144.5 469.3,1140.0" fill="#009cff"/>
<polygon points="393.2,1185.4 429.9,1208.2 449.3,1186.7 413.1,1157.6" fill="#0060ff"/>
<polygon points="149.5,1188.9 185.4,1212.2 207.0,1188.1 171.4,1171.7" fill="#0044ff"/>
<polygon points="299.9,1179.3 336.4,1186.9 356.7,1163.5 320.5,1152.1" fill="#00b0ff"/>
<polygon points="242.8,1196.2 279.1,1205.8 299.9,1179.3 263.9,1167.9" fill="#0070ff"/>
<polygon points="429.9,1208.2 467.1,1222.1 486.2,1201.9 449.3,1186.7" fill="#0018ff"/>
<polygon points="336.4,1186.9 373.0,1214.5 393.2,1185.4 356.7,1163.5" fill="#0084ff"/>
<polygon points="185.4,1212.2 221.4,1221.0 242.8,1196.2 207.0,1188.1" fill="#002cff"/>
<polygon points="91.7,1197.0 127.4,1212.9 149.5,1188.9 113.9,1169.2" fill="#0070ff"/>
<polygon points="373.0,1214.5 410.0,1231.0 429.9,1208.2 393.2,1185.4" fill="#002cff"/>
<polygon points="279.1,1205.8 315.7,1217.2 336.4,1186.9 299.9,1179.3" fill="#0074ff"/>
<polygon points="127.4,1212.9 163.6,1241.2 185.4,1212.2 149.5,1188.9" fill="#0020ff"/>
<polygon points="221.4,1221.0 257.8,1231.1 279.1,1205.8 242.8,1196.2" fill="#0038ff"/>
<polygon points="410.0,1231.0 447.5,1242.3 467.1,1222.1 429.9,1208.2" fill="#0008ff"/>
<polygon points="69.2,1228.6 105.1,1246.3 127.4,1212.9 91.7,1197.0" fill="#0024ff"/>
<polygon points="315.7,1217.2 352.7,1229.0 373.0,1214.5 336.4,1186.9" fill="#0058ff"/>
<polygon points="163.6,1241.2 199.6,1242.5 221.4,1221.0 185.4,1212.2" fill="#0000ff"/>
<polygon points="257.8,1231.1 294.7,1243.8 315.7,1217.2 279.1,1205.8" fill="#0038ff"/>
<polygon points="105.1,1246.3 141.2,1261.5 163.6,1241.2 127.4,1212.9" fill="#0000f6"/>
<polygon points="352.7,1229.0 389.9,1251.2 410.0,1231.0 373.0,1214.5" fill="#001cff"/>
<polygon points="199.6,1242.5 236.3,1260.2 257.8,1231.1 221.4,1221.0" fill="#000cff"/>
<polygon points="389.9,1251.2 427.5,1266.4 447.5,1242.3 410.0,1231.0" fill="#0000ff"/>
<polygon points="294.7,1243.8 331.9,1253.9 352.7,1229.0 315.7,1217.2" fill="#0038ff"/>
<polygon points="141.2,1261.5 177.7,1276.6 199.6,1242.5 163.6,1241.2" fill="#0000d6"/>
<polygon points="44.2,1205.3 82.6,1283.7 105.1,1246.3 69.2,1228.6" fill="#0020ff"/>
<polygon points="82.6,1283.7 118.8,1297.4 141.2,1261.5 105.1,1246.3" fill="#000092"/>
<polygon points="236.3,1260.2 273.3,1267.8 294.7,1243.8 257.8,1231.1" fill="#0008ff"/>
<polygon points="331.9,1253.9 369.3,1279.0 389.9,1251.2 352.7,1229.0" fill="#000cff"/>
<polygon points="177.7,1276.6 214.3,1281.7 236.3,1260.2 199.6,1242.5" fill="#0000e3"/>
<polygon points="118.8,1297.4 155.3,1305.7 177.7,1276.6 141.2,1261.5" fill="#000084"/>
<polygon points="273.3,1267.8 310.7,1283.0 331.9,1253.9 294.7,1243.8" fill="#0008ff"/>
<polygon points="369.3,1279.0 407.2,1290.4 427.5,1266.4 389.9,1251.2" fill="#0000e3"/>
<polygon points="214.3,1281.7 251.6,1295.6 273.3,1267.8 236.3,1260.2" fill="#0000e8"/>
<polygon points="310.7,1283.0 348.4,1300.5 369.3,1279.0 331.9,1253.9" fill="#0000ed"/>
<polygon points="155.3,1305.7 192.0,1306.2 214.3,1281.7 177.7,1276.6" fill="#0000a8"/>
<polygon points="251.6,1295.6 289.2,1310.0 310.7,1283.0 273.3,1267.8" fill="#0000df"/>
<polygon points="348.4,1300.5 386.6,1314.4 407.2,1290.4 369.3,1279.0" fill="#0000bf"/>
<polygon points="192.0,1306.2 229.4,1313.3 251.6,1295.6 214.3,1281.7" fill="#0000d1"/>
<polygon points="289.2,1310.0 327.1,1324.7 348.4,1300.5 310.7,1283.0" fill="#0000bf"/>
<polygon points="229.4,1313.3 267.3,1332.3 289.2,1310.0 251.6,1295.6" fill="#0000c4"/>
<polygon points="327.1,1324.7 365.5,1338.4 386.6,1314.4 348.4,1300.5" fill="#0000a8"/>
<polygon points="267.3,1332.3 305.5,1347.4 327.1,1324.7 289.2,1310.0" fill="#0000a4"/>
<polygon points="305.5,1347.4 344.1,1364.6 365.5,1338.4 327.1,1324.7" fill="#00008d"/>
</g>
<path d="M12.7,1284.1 L354.1,1395.0 L536.1,1209.5 L547.1,958.4 M30.6,1293.2 L35.4,1289.1 M371.3,1383.7 L363.4,1381.2 M66.5,1304.9 L71.2,1300.8 M392.5,1362.1 L384.6,1359.6 M102.7,1316.6 L107.4,1312.5 M413.2,1340.9 L405.4,1338.4 M139.4,1328.6 L144.0,1324.4 M433.6,1320.1 L425.8,1317.7 M176.4,1340.6 L181.0,1336.4 M453.5,1299.7 L445.9,1297.3 M213.8,1352.8 L218.4,1348.5 M473.1,1279.6 L465.5,1277.3 M251.7,1365.1 L256.2,1360.8 M492.4,1260.0 L484.8,1257.7 M290.0,1377.6 L294.5,1373.2 M511.3,1240.7 L503.7,1238.4 M328.7,1390.2 L333.1,1385.8 M529.8,1221.7 L522.3,1219.5 M552.0,977.8 L542.8,975.5 M550.2,1017.4 L541.1,1015.0 M548.4,1056.4 L539.4,1054.0 M546.7,1094.9 L537.7,1092.5 M545.0,1133.0 L536.1,1130.5 M543.3,1170.5 L534.5,1168.0 M541.6,1207.6 L532.8,1205.1" fill="none" stroke="#262626" stroke-width="1.31"/>
<text x="22.1" y="1330.1" font-size="17.5" text-anchor="middle" fill="#1f1f1f" font-family="Liberation Sans" textLength="23.3" lengthAdjust="spacingAndGlyphs">0.1</text>
<text x="386.7" y="1418.1" font-size="17.5" text-anchor="middle" fill="#1f1f1f" font-family="Liberation Sans" textLength="23.3" lengthAdjust="spacingAndGlyphs">0.1</text>
<text x="57.9" y="1341.9" font-size="17.5" text-anchor="middle" fill="#1f1f1f" font-family="Liberation Sans" textLength="23.3" lengthAdjust="spacingAndGlyphs">0.2</text>
<text x="407.6" y="1396.3" font-size="17.5" text-anchor="middle" fill="#1f1f1f" font-family="Liberation Sans" textLength="23.3" lengthAdjust="spacingAndGlyphs">0.2</text>
<text x="94.0" y="1353.9" font-size="17.5" text-anchor="middle" fill="#1f1f1f" font-family="Liberation Sans" textLength="23.3" lengthAdjust="spacingAndGlyphs">0.3</text>
<text x="428.2" y="1374.8" font-size="17.5" text-anchor="middle" fill="#1f1f1f" font-family="Liberation Sans" textLength="23.3" lengthAdjust="spacingAndGlyphs">0.3</text>
<text x="130.6" y="1366.0" font-size="17.5" text-anchor="middle" fill="#1f1f1f" font-family="Liberation Sans" textLength="23.3" lengthAdjust="spacingAndGlyphs">0.4</text>
<text x="448.4" y="1353.8" font-size="17.5" text-anchor="middle" fill="#1f1f1f" font-family="Liberation Sans" textLength="23.3" lengthAdjust="spacingAndGlyphs">0.4</text>
<text x="167.6" y="1378.2" font-size="17.5" text-anchor="middle" fill="#1f1f1f" font-family="Liberation Sans" textLength="23.3" lengthAdjust="spacingAndGlyphs">0.5</text>
<text x="468.2" y="1333.2" font-size="17.5" text-anchor="middle" fill="#1f1f1f" font-family="Liberation Sans" textLength="23.3" lengthAdjust="spacingAndGlyphs">0.5</text>
<text x="205.0" y="1390.5" font-size="17.5" text-anchor="middle" fill="#1f1f1f" font-family="Liberation Sans" textLength="23.3" lengthAdjust="spacingAndGlyphs">0.6</text>
<text x="487.6" y="1312.9" font-size="17.5" text-anchor="middle" fill="#1f1f1f" font-family="Liberation Sans" textLength="23.3" lengthAdjust="spacingAndGlyphs">0.6</text>
<text x="242.8" y="1403.0" font-size="17.5" text-anchor="middle" fill="#1f1f1f" font-family="Liberation Sans" textLength="23.3" lengthAdjust="spacingAndGlyphs">0.7</text>
<text x="506.7" y="1293.0" font-size="17.5" text-anchor="middle" fill="#1f1f1f" font-family="Liberation Sans" textLength="23.3" lengthAdjust="spacingAndGlyphs">0.7</text>
<text x="281.1" y="1415.7" font-size="17.5" text-anchor="middle" fill="#1f1f1f" font-family="Liberation Sans" textLength="23.3" lengthAdjust="spacingAndGlyphs">0.8</text>
<text x="525.4" y="1273.5" font-size="17.5" text-anchor="middle" fill="#1f1f1f" font-family="Liberation Sans" textLength="23.3" lengthAdjust="spacingAndGlyphs">0.8</text>
<text x="319.7" y="1428.5" font-size="17.5" text-anchor="middle" fill="#1f1f1f" font-family="Liberation Sans" textLength="23.3" lengthAdjust="spacingAndGlyphs">0.9</text>
<text x="543.8" y="1254.3" font-size="17.5" text-anchor="middle" fill="#1f1f1f" font-family="Liberation Sans" textLength="23.3" lengthAdjust="spacingAndGlyphs">0.9</text>
<text x="576.8" y="985.9" font-size="17.5" text-anchor="middle" fill="#1f1f1f" font-family="Liberation Sans" textLength="37.2" lengthAdjust="spacingAndGlyphs">1200</text>
<text x="574.8" y="1025.4" font-size="17.5" text-anchor="middle" fill="#1f1f1f" font-family="Liberation Sans" textLength="37.2" lengthAdjust="spacingAndGlyphs">1000</text>
<text x="572.9" y="1064.5" font-size="17.5" text-anchor="middle" fill="#1f1f1f" font-family="Liberation Sans" textLength="27.9" lengthAdjust="spacingAndGlyphs">800</text>
<text x="571.0" y="1103.1" font-size="17.5" text-anchor="middle" fill="#1f1f1f" font-family="Liberation Sans" textLength="27.9" lengthAdjust="spacingAndGlyphs">600</text>
<text x="569.2" y="1141.1" font-size="17.5" text-anchor="middle" fill="#1f1f1f" font-family="Liberation Sans" textLength="27.9" lengthAdjust="spacingAndGlyphs">400</text>
<text x="567.3" y="1178.7" font-size="17.5" text-anchor="middle" fill="#1f1f1f" font-family="Liberation Sans" textLength="27.9" lengthAdjust="spacingAndGlyphs">200</text>
<text x="565.5" y="1215.8" font-size="17.5" text-anchor="middle" fill="#1f1f1f" font-family="Liberation Sans" textLength="9.3" lengthAdjust="spacingAndGlyphs">0</text>
<text x="153.9" y="1401.9" font-size="17.5" text-anchor="middle" fill="#1f1f1f" font-family="Liberation Sans" textLength="100.4" lengthAdjust="spacingAndGlyphs" transform="rotate(18.0 153.9 1395.6)">ET Quantiles</text>
<text x="490.9" y="1350.9" font-size="17.5" text-anchor="middle" fill="#1f1f1f" font-family="Liberation Sans" textLength="114.4" lengthAdjust="spacingAndGlyphs" transform="rotate(-45.5 490.9 1344.6)">CO2 Quantiles</text>
<text x="602.8" y="1087.1" font-size="17.5" text-anchor="middle" fill="#1f1f1f" font-family="Liberation Sans" textLength="126.4" lengthAdjust="spacingAndGlyphs" transform="rotate(-87.5 602.8 1080.8)">QQR Coefficient</text>
<text x="272.0" y="821.1" font-size="19.7" text-anchor="middle" fill="#1f1f1f" font-family="Liberation Sans" textLength="340.0" lengthAdjust="spacingAndGlyphs">3D Surface Plot of QQR Coefficients</text>
<rect x="620.7" y="978.7" width="30.9" height="304.8" fill="url(#jet)" stroke="#262626" stroke-width="1.21"/>
<text x="662.2" y="1015.3" font-size="17.5" text-anchor="start" fill="#1f1f1f" font-family="Liberation Sans" textLength="27.9" lengthAdjust="spacingAndGlyphs">700</text>
<text x="662.2" y="1057.8" font-size="17.5" text-anchor="start" fill="#1f1f1f" font-family="Liberation Sans" textLength="27.9" lengthAdjust="spacingAndGlyphs">600</text>
<text x="662.2" y="1099.5" font-size="17.5" text-anchor="start" fill="#1f1f1f" font-family="Liberation Sans" textLength="27.9" lengthAdjust="spacingAndGlyphs">500</text>
<text x="662.2" y="1141.2" font-size="17.5" text-anchor="start" fill="#1f1f1f" font-family="Liberation Sans" textLength="27.9" lengthAdjust="spacingAndGlyphs">400</text>
<text x="662.2" y="1182.9" font-size="17.5" text-anchor="start" fill="#1f1f1f" font-family="Liberation Sans" textLength="27.9" lengthAdjust="spacingAndGlyphs">300</text>
<text x="662.2" y="1224.6" font-size="17.5" text-anchor="start" fill="#1f1f1f" font-family="Liberation Sans" textLength="27.9" lengthAdjust="spacingAndGlyphs">200</text>
<text x="662.2" y="1266.8" font-size="17.5" text-anchor="start" fill="#1f1f1f" font-family="Liberation Sans" textLength="27.9" lengthAdjust="spacingAndGlyphs">100</text>
<path d="M651.6,1009.0 h7.0 M651.6,1051.5 h7.0 M651.6,1093.2 h7.0 M651.6,1134.9 h7.0 M651.6,1176.6 h7.0 M651.6,1218.3 h7.0 M651.6,1260.5 h7.0" stroke="#262626" stroke-width="1.21"/>
</g>
<g id="plot4">
<polygon points="758.1,1287.8 953.9,1123.5 951.2,886.1 746.5,1036.6" fill="#f8f8f8"/>
<polygon points="953.9,1123.5 1269.0,1215.0 1279.8,969.8 951.2,886.1" fill="#f1f1f1"/>
<polygon points="758.1,1287.8 1091.3,1396.1 1269.0,1215.0 953.9,1123.5" fill="#f5f5f5"/>
<path d="M778.3,1294.3 L973.1,1129.0 L971.2,891.2 M760.6,1026.2 L771.5,1276.5 L1103.6,1383.6 M813.3,1305.7 L1006.2,1138.7 L1005.7,900.0 M784.4,1008.7 L794.2,1257.4 L1124.2,1362.5 M848.6,1317.2 L1039.7,1148.4 L1040.6,908.9 M807.8,991.5 L816.6,1238.7 L1144.5,1341.8 M884.3,1328.8 L1073.6,1158.2 L1075.9,917.9 M830.7,974.7 L838.5,1220.3 L1164.4,1321.6 M920.5,1340.6 L1107.8,1168.2 L1111.5,927.0 M853.2,958.1 L860.0,1202.2 L1184.0,1301.7 M957.0,1352.4 L1142.3,1178.2 L1147.5,936.1 M875.3,941.9 L881.1,1184.5 L1203.1,1282.1 M994.0,1364.4 L1177.2,1188.3 L1183.9,945.4 M897.0,926.0 L901.9,1167.1 L1221.9,1263.0 M1031.3,1376.6 L1212.4,1198.6 L1220.7,954.8 M918.3,910.3 L922.3,1150.0 L1240.4,1244.1 M1069.1,1388.9 L1248.0,1208.9 L1257.9,964.3 M939.2,894.9 L942.3,1133.1 L1258.5,1225.6 M747.6,1060.4 L951.5,908.6 L1278.7,993.1 M748.9,1088.6 L951.8,935.1 L1277.5,1020.6 M750.2,1116.5 L952.1,961.5 L1276.3,1047.8 M751.4,1144.2 L952.4,987.6 L1275.1,1074.8 M752.7,1171.6 L952.6,1013.5 L1274.0,1101.5 M754.0,1198.7 L952.9,1039.1 L1272.8,1128.0 M755.2,1225.6 L953.2,1064.5 L1271.6,1154.2 M756.4,1252.2 L953.5,1089.7 L1270.5,1180.3 M757.6,1278.6 L953.8,1114.7 L1269.4,1206.0" fill="none" stroke="#c3c3c3" stroke-width="1.23"/>
<g stroke="#000" stroke-width="1.33" stroke-linejoin="round">
<polygon points="940.7,1084.3 974.6,1099.5 994.6,1071.2 960.8,1056.5" fill="#77ff80"/>
<polygon points="974.6,1099.5 1008.9,1128.6 1028.6,1075.5 994.6,1071.2" fill="#50ffa7"/>
<polygon points="920.4,1115.9 954.6,1146.3 974.6,1099.5 940.7,1084.3" fill="#0ff8e7"/>
<polygon points="954.6,1146.3 988.9,1160.2 1008.9,1128.6 974.6,1099.5" fill="#0098ff"/>
<polygon points="1008.9,1128.6 1043.3,1134.9 1063.2,1067.1 1028.6,1075.5" fill="#5dff9a"/>
<polygon points="899.7,1140.2 934.3,1181.7 954.6,1146.3 920.4,1115.9" fill="#0070ff"/>
<polygon points="988.9,1160.2 1023.4,1169.0 1043.3,1134.9 1008.9,1128.6" fill="#0074ff"/>
<polygon points="934.3,1181.7 968.5,1182.9 988.9,1160.2 954.6,1146.3" fill="#0014ff"/>
<polygon points="1023.4,1169.0 1058.3,1179.1 1078.2,1136.2 1043.3,1134.9" fill="#0090ff"/>
<polygon points="878.7,1167.2 913.4,1199.7 934.3,1181.7 899.7,1140.2" fill="#002cff"/>
<polygon points="968.5,1182.9 1003.3,1191.8 1023.4,1169.0 988.9,1160.2" fill="#0024ff"/>
<polygon points="1043.3,1134.9 1078.2,1136.2 1100.0,942.2 1063.2,1067.1" fill="#ff8900"/>
<polygon points="913.4,1199.7 947.9,1208.2 968.5,1182.9 934.3,1181.7" fill="#0000e8"/>
<polygon points="1148.3,1190.3 1183.7,1211.5 1202.0,1200.6 1168.8,1105.8" fill="#0048ff"/>
<polygon points="1058.3,1179.1 1093.6,1190.5 1113.2,1158.9 1078.2,1136.2" fill="#0088ff"/>
<polygon points="1003.3,1191.8 1038.4,1204.4 1058.3,1179.1 1023.4,1169.0" fill="#0028ff"/>
<polygon points="1183.7,1211.5 1219.9,1218.3 1238.5,1193.0 1202.0,1200.6" fill="#0000bf"/>
<polygon points="857.7,1204.5 891.9,1209.6 913.4,1199.7 878.7,1167.2" fill="#0004ff"/>
<polygon points="1093.6,1190.5 1129.1,1208.2 1148.3,1190.3 1113.2,1158.9" fill="#0034ff"/>
<polygon points="947.9,1208.2 982.7,1214.5 1003.3,1191.8 968.5,1182.9" fill="#0000ff"/>
<polygon points="1113.2,1158.9 1148.3,1190.3 1168.8,1105.8 1136.1,950.8" fill="#ffdb00"/>
<polygon points="1129.1,1208.2 1164.9,1228.5 1183.7,1211.5 1148.3,1190.3" fill="#0000e3"/>
<polygon points="1038.4,1204.4 1073.8,1213.3 1093.6,1190.5 1058.3,1179.1" fill="#0024ff"/>
<polygon points="891.9,1209.6 926.8,1226.8 947.9,1208.2 913.4,1199.7" fill="#0000e8"/>
<polygon points="1078.2,1136.2 1113.2,1158.9 1136.1,950.8 1100.0,942.2" fill="#800000"/>
<polygon points="982.7,1214.5 1018.0,1225.9 1038.4,1204.4 1003.3,1191.8" fill="#0000ff"/>
<polygon points="836.1,1234.4 870.5,1238.1 891.9,1209.6 857.7,1204.5" fill="#0000d1"/>
<polygon points="1164.9,1228.5 1201.3,1237.5 1219.9,1218.3 1183.7,1211.5" fill="#0000c4"/>
<polygon points="1073.8,1213.3 1109.6,1231.5 1129.1,1208.2 1093.6,1190.5" fill="#000cff"/>
<polygon points="926.8,1226.8 961.9,1240.7 982.7,1214.5 947.9,1208.2" fill="#0000e3"/>
<polygon points="1018.0,1225.9 1053.7,1236.0 1073.8,1213.3 1038.4,1204.4" fill="#0000ff"/>
<polygon points="1109.6,1231.5 1145.6,1247.5 1164.9,1228.5 1129.1,1208.2" fill="#0000da"/>
<polygon points="870.5,1238.1 905.4,1248.3 926.8,1226.8 891.9,1209.6" fill="#0000df"/>
<polygon points="961.9,1240.7 997.4,1252.0 1018.0,1225.9 982.7,1214.5" fill="#0000e3"/>
<polygon points="814.0,1255.8 848.5,1260.9 870.5,1238.1 836.1,1234.4" fill="#000096"/>
<polygon points="1053.7,1236.0 1089.7,1253.0 1109.6,1231.5 1073.8,1213.3" fill="#0000fa"/>
<polygon points="1145.6,1247.5 1182.2,1257.0 1201.3,1237.5 1164.9,1228.5" fill="#0000c4"/>
<polygon points="905.4,1248.3 940.7,1260.9 961.9,1240.7 926.8,1226.8" fill="#0000c8"/>
<polygon points="997.4,1252.0 1033.2,1264.7 1053.7,1236.0 1018.0,1225.9" fill="#0000df"/>
<polygon points="1089.7,1253.0 1126.0,1268.9 1145.6,1247.5 1109.6,1231.5" fill="#0000c8"/>
<polygon points="848.5,1260.9 883.6,1269.7 905.4,1248.3 870.5,1238.1" fill="#0000b6"/>
<polygon points="940.7,1260.9 976.4,1272.3 997.4,1252.0 961.9,1240.7" fill="#0000bf"/>
<polygon points="791.4,1275.6 825.9,1276.1 848.5,1260.9 814.0,1255.8" fill="#00008d"/>
<polygon points="1033.2,1264.7 1069.5,1276.2 1089.7,1253.0 1053.7,1236.0" fill="#0000cd"/>
<polygon points="1126.0,1268.9 1162.9,1277.0 1182.2,1257.0 1145.6,1247.5" fill="#0000bb"/>
<polygon points="883.6,1269.7 919.0,1279.9 940.7,1260.9 905.4,1248.3" fill="#0000bb"/>
<polygon points="976.4,1272.3 1012.4,1283.7 1033.2,1264.7 997.4,1252.0" fill="#0000b6"/>
<polygon points="1069.5,1276.2 1106.0,1290.4 1126.0,1268.9 1089.7,1253.0" fill="#0000b2"/>
<polygon points="825.9,1276.1 861.2,1287.4 883.6,1269.7 848.5,1260.9" fill="#0000b6"/>
<polygon points="919.0,1279.9 955.0,1292.5 976.4,1272.3 940.7,1260.9" fill="#0000b6"/>
<polygon points="1012.4,1283.7 1048.9,1297.6 1069.5,1276.2 1033.2,1264.7" fill="#0000ad"/>
<polygon points="1106.0,1290.4 1143.1,1299.2 1162.9,1277.0 1126.0,1268.9" fill="#0000ad"/>
<polygon points="861.2,1287.4 897.0,1299.3 919.0,1279.9 883.6,1269.7" fill="#0000bb"/>
<polygon points="955.0,1292.5 991.2,1303.9 1012.4,1283.7 976.4,1272.3" fill="#0000b6"/>
<polygon points="1048.9,1297.6 1085.7,1311.6 1106.0,1290.4 1069.5,1276.2" fill="#00009b"/>
<polygon points="897.0,1299.3 933.1,1312.0 955.0,1292.5 919.0,1279.9" fill="#0000bb"/>
<polygon points="991.2,1303.9 1027.9,1316.5 1048.9,1297.6 1012.4,1283.7" fill="#0000ad"/>
<polygon points="1085.7,1311.6 1122.9,1322.0 1143.1,1299.2 1106.0,1290.4" fill="#00009b"/>
<polygon points="933.1,1312.0 969.6,1324.1 991.2,1303.9 955.0,1292.5" fill="#0000b2"/>
<polygon points="1027.9,1316.5 1065.0,1332.5 1085.7,1311.6 1048.9,1297.6" fill="#000096"/>
<polygon points="969.6,1324.1 1006.5,1336.2 1027.9,1316.5 991.2,1303.9" fill="#0000b2"/>
<polygon points="1065.0,1332.5 1102.4,1344.5 1122.9,1322.0 1085.7,1311.6" fill="#000089"/>
<polygon points="1006.5,1336.2 1043.9,1349.4 1065.0,1332.5 1027.9,1316.5" fill="#00009f"/>
<polygon points="1043.9,1349.4 1081.5,1366.3 1102.4,1344.5 1065.0,1332.5" fill="#000089"/>
</g>
<path d="M758.1,1287.8 L1091.3,1396.1 L1269.0,1215.0 L1279.8,969.8 M775.5,1296.7 L780.2,1292.7 M1108.1,1385.1 L1100.4,1382.6 M810.5,1308.1 L815.1,1304.1 M1128.8,1364.0 L1121.1,1361.5 M845.9,1319.6 L850.5,1315.6 M1149.0,1343.3 L1141.4,1340.9 M881.7,1331.2 L886.2,1327.2 M1168.9,1322.9 L1161.4,1320.6 M917.8,1343.0 L922.3,1338.9 M1188.4,1303.0 L1180.9,1300.7 M954.4,1354.9 L958.8,1350.7 M1207.5,1283.5 L1200.1,1281.2 M991.4,1366.9 L995.7,1362.7 M1226.3,1264.3 L1218.9,1262.0 M1028.7,1379.1 L1033.1,1374.8 M1244.7,1245.4 L1237.4,1243.2 M1066.5,1391.4 L1070.8,1387.1 M1262.8,1226.9 L1255.6,1224.8 M1284.2,994.5 L1275.3,992.2 M1283.0,1022.0 L1274.1,1019.7 M1281.8,1049.2 L1272.9,1046.9 M1280.6,1076.2 L1271.8,1073.9 M1279.4,1103.0 L1270.6,1100.6 M1278.2,1129.5 L1269.4,1127.1 M1277.0,1155.7 L1268.3,1153.3 M1275.8,1181.8 L1267.2,1179.3 M1274.7,1207.6 L1266.1,1205.1" fill="none" stroke="#262626" stroke-width="1.28"/>
<text x="767.2" y="1332.7" font-size="17.1" text-anchor="middle" fill="#1f1f1f" font-family="Liberation Sans" textLength="22.7" lengthAdjust="spacingAndGlyphs">0.1</text>
<text x="1123.1" y="1418.6" font-size="17.1" text-anchor="middle" fill="#1f1f1f" font-family="Liberation Sans" textLength="22.7" lengthAdjust="spacingAndGlyphs">0.1</text>
<text x="802.1" y="1344.2" font-size="17.1" text-anchor="middle" fill="#1f1f1f" font-family="Liberation Sans" textLength="22.7" lengthAdjust="spacingAndGlyphs">0.2</text>
<text x="1143.6" y="1397.3" font-size="17.1" text-anchor="middle" fill="#1f1f1f" font-family="Liberation Sans" textLength="22.7" lengthAdjust="spacingAndGlyphs">0.2</text>
<text x="837.4" y="1355.9" font-size="17.1" text-anchor="middle" fill="#1f1f1f" font-family="Liberation Sans" textLength="22.7" lengthAdjust="spacingAndGlyphs">0.3</text>
<text x="1163.6" y="1376.4" font-size="17.1" text-anchor="middle" fill="#1f1f1f" font-family="Liberation Sans" textLength="22.7" lengthAdjust="spacingAndGlyphs">0.3</text>
<text x="873.1" y="1367.7" font-size="17.1" text-anchor="middle" fill="#1f1f1f" font-family="Liberation Sans" textLength="22.7" lengthAdjust="spacingAndGlyphs">0.4</text>
<text x="1183.3" y="1355.9" font-size="17.1" text-anchor="middle" fill="#1f1f1f" font-family="Liberation Sans" textLength="22.7" lengthAdjust="spacingAndGlyphs">0.4</text>
<text x="909.2" y="1379.7" font-size="17.1" text-anchor="middle" fill="#1f1f1f" font-family="Liberation Sans" textLength="22.7" lengthAdjust="spacingAndGlyphs">0.5</text>
<text x="1202.7" y="1335.7" font-size="17.1" text-anchor="middle" fill="#1f1f1f" font-family="Liberation Sans" textLength="22.7" lengthAdjust="spacingAndGlyphs">0.5</text>
<text x="945.8" y="1391.7" font-size="17.1" text-anchor="middle" fill="#1f1f1f" font-family="Liberation Sans" textLength="22.7" lengthAdjust="spacingAndGlyphs">0.6</text>
<text x="1221.6" y="1315.9" font-size="17.1" text-anchor="middle" fill="#1f1f1f" font-family="Liberation Sans" textLength="22.7" lengthAdjust="spacingAndGlyphs">0.6</text>
<text x="982.7" y="1403.9" font-size="17.1" text-anchor="middle" fill="#1f1f1f" font-family="Liberation Sans" textLength="22.7" lengthAdjust="spacingAndGlyphs">0.7</text>
<text x="1240.3" y="1296.5" font-size="17.1" text-anchor="middle" fill="#1f1f1f" font-family="Liberation Sans" textLength="22.7" lengthAdjust="spacingAndGlyphs">0.7</text>
<text x="1020.0" y="1416.3" font-size="17.1" text-anchor="middle" fill="#1f1f1f" font-family="Liberation Sans" textLength="22.7" lengthAdjust="spacingAndGlyphs">0.8</text>
<text x="1258.5" y="1277.5" font-size="17.1" text-anchor="middle" fill="#1f1f1f" font-family="Liberation Sans" textLength="22.7" lengthAdjust="spacingAndGlyphs">0.8</text>
<text x="1057.8" y="1428.8" font-size="17.1" text-anchor="middle" fill="#1f1f1f" font-family="Liberation Sans" textLength="22.7" lengthAdjust="spacingAndGlyphs">0.9</text>
<text x="1276.5" y="1258.8" font-size="17.1" text-anchor="middle" fill="#1f1f1f" font-family="Liberation Sans" textLength="22.7" lengthAdjust="spacingAndGlyphs">0.9</text>
<text x="1308.4" y="1002.4" font-size="17.1" text-anchor="middle" fill="#1f1f1f" font-family="Liberation Sans" textLength="31.8" lengthAdjust="spacingAndGlyphs">0.08</text>
<text x="1307.1" y="1029.9" font-size="17.1" text-anchor="middle" fill="#1f1f1f" font-family="Liberation Sans" textLength="31.8" lengthAdjust="spacingAndGlyphs">0.07</text>
<text x="1305.7" y="1057.1" font-size="17.1" text-anchor="middle" fill="#1f1f1f" font-family="Liberation Sans" textLength="31.8" lengthAdjust="spacingAndGlyphs">0.06</text>
<text x="1304.4" y="1084.1" font-size="17.1" text-anchor="middle" fill="#1f1f1f" font-family="Liberation Sans" textLength="31.8" lengthAdjust="spacingAndGlyphs">0.05</text>
<text x="1303.1" y="1110.9" font-size="17.1" text-anchor="middle" fill="#1f1f1f" font-family="Liberation Sans" textLength="31.8" lengthAdjust="spacingAndGlyphs">0.04</text>
<text x="1301.8" y="1137.4" font-size="17.1" text-anchor="middle" fill="#1f1f1f" font-family="Liberation Sans" textLength="31.8" lengthAdjust="spacingAndGlyphs">0.03</text>
<text x="1300.5" y="1163.7" font-size="17.1" text-anchor="middle" fill="#1f1f1f" font-family="Liberation Sans" textLength="31.8" lengthAdjust="spacingAndGlyphs">0.02</text>
<text x="1299.2" y="1189.7" font-size="17.1" text-anchor="middle" fill="#1f1f1f" font-family="Liberation Sans" textLength="31.8" lengthAdjust="spacingAndGlyphs">0.01</text>
<text x="1298.0" y="1215.6" font-size="17.1" text-anchor="middle" fill="#1f1f1f" font-family="Liberation Sans" textLength="31.8" lengthAdjust="spacingAndGlyphs">0.00</text>
<text x="895.9" y="1402.8" font-size="17.1" text-anchor="middle" fill="#1f1f1f" font-family="Liberation Sans" textLength="111.7" lengthAdjust="spacingAndGlyphs" transform="rotate(18.0 895.9 1396.6)">CO2 Quantiles</text>
<text x="1224.8" y="1353.0" font-size="17.1" text-anchor="middle" fill="#1f1f1f" font-family="Liberation Sans" textLength="98.0" lengthAdjust="spacingAndGlyphs" transform="rotate(-45.5 1224.8 1346.9)">ET Quantiles</text>
<text x="1334.2" y="1095.5" font-size="17.1" text-anchor="middle" fill="#1f1f1f" font-family="Liberation Sans" textLength="123.4" lengthAdjust="spacingAndGlyphs" transform="rotate(-87.5 1334.2 1089.3)">QQR Coefficient</text>
<text x="1011.0" y="834.9" font-size="19.3" text-anchor="middle" fill="#1f1f1f" font-family="Liberation Sans" textLength="332.0" lengthAdjust="spacingAndGlyphs">3D Surface Plot of QQR Coefficients</text>
<rect x="1351.4" y="989.0" width="30.4" height="297.6" fill="url(#jet)" stroke="#262626" stroke-width="1.18"/>
<text x="1392.1" y="1005.1" font-size="17.1" text-anchor="start" fill="#1f1f1f" font-family="Liberation Sans" textLength="31.8" lengthAdjust="spacingAndGlyphs">0.05</text>
<text x="1392.1" y="1064.5" font-size="17.1" text-anchor="start" fill="#1f1f1f" font-family="Liberation Sans" textLength="31.8" lengthAdjust="spacingAndGlyphs">0.04</text>
<text x="1392.1" y="1122.1" font-size="17.1" text-anchor="start" fill="#1f1f1f" font-family="Liberation Sans" textLength="31.8" lengthAdjust="spacingAndGlyphs">0.03</text>
<text x="1392.1" y="1181.5" font-size="17.1" text-anchor="start" fill="#1f1f1f" font-family="Liberation Sans" textLength="31.8" lengthAdjust="spacingAndGlyphs">0.02</text>
<text x="1392.1" y="1240.4" font-size="17.1" text-anchor="start" fill="#1f1f1f" font-family="Liberation Sans" textLength="31.8" lengthAdjust="spacingAndGlyphs">0.01</text>
<path d="M1381.8,998.9 h6.9 M1381.8,1058.3 h6.9 M1381.8,1115.9 h6.9 M1381.8,1175.3 h6.9 M1381.8,1234.2 h6.9" stroke="#262626" stroke-width="1.18"/>
</g>
<g id="plot5">
<polygon points="15.3,2100.6 214.5,1933.4 211.8,1691.9 3.5,1845.0" fill="#f8f8f8"/>
<polygon points="214.5,1933.4 535.1,2026.6 546.0,1777.1 211.8,1691.9" fill="#f1f1f1"/>
<polygon points="15.3,2100.6 354.3,2210.8 535.1,2026.6 214.5,1933.4" fill="#f5f5f5"/>
<path d="M35.9,2107.3 L234.0,1939.1 L232.2,1697.1 M17.9,1834.5 L29.0,2089.1 L366.8,2198.1 M71.5,2118.8 L267.8,1948.9 L267.3,1706.1 M42.1,1816.7 L52.1,2069.7 L387.8,2176.6 M107.4,2130.5 L301.9,1958.8 L302.8,1715.1 M65.9,1799.2 L74.8,2050.6 L408.5,2155.6 M143.8,2142.3 L336.3,1968.8 L338.6,1724.3 M89.2,1782.0 L97.1,2031.9 L428.7,2135.0 M180.5,2154.3 L371.1,1978.9 L374.9,1733.5 M112.1,1765.2 L119.0,2013.6 L448.6,2114.7 M217.7,2166.4 L406.2,1989.1 L411.5,1742.8 M134.6,1748.7 L140.5,1995.5 L468.1,2094.8 M255.3,2178.6 L441.7,1999.4 L448.5,1752.3 M156.7,1732.5 L161.6,1977.8 L487.2,2075.3 M293.3,2190.9 L477.5,2009.8 L486.0,1761.8 M178.3,1716.6 L182.4,1960.4 L506.0,2056.2 M331.7,2203.4 L513.8,2020.4 L523.8,1771.4 M199.6,1700.9 L202.8,1943.3 L524.5,2037.4 M4.1,1858.5 L212.0,1704.7 L545.5,1790.3 M5.9,1896.2 L212.4,1740.2 L543.8,1827.0 M7.6,1933.5 L212.8,1775.3 L542.3,1863.4 M9.3,1970.2 L213.1,1810.0 L540.7,1899.2 M11.0,2006.5 L213.5,1844.4 L539.1,1934.7 M12.6,2042.4 L213.9,1878.3 L537.6,1969.7 M14.3,2077.8 L214.3,1911.8 L536.0,2004.3" fill="none" stroke="#c3c3c3" stroke-width="1.25"/>
<g stroke="#000" stroke-width="1.35" stroke-linejoin="round">
<polygon points="235.9,1949.0 270.4,1941.7 290.5,1922.7 255.8,1850.0" fill="#3cffba"/>
<polygon points="270.4,1941.7 305.6,1928.0 325.5,1903.7 290.5,1922.7" fill="#49ffad"/>
<polygon points="215.3,1958.5 250.1,1964.8 270.4,1941.7 235.9,1949.0" fill="#0084ff"/>
<polygon points="200.3,1833.2 235.9,1949.0 255.8,1850.0 220.0,1711.8" fill="#800000"/>
<polygon points="179.7,1878.5 215.3,1958.5 235.9,1949.0 200.3,1833.2" fill="#b7ff40"/>
<polygon points="159.1,1936.4 194.3,1976.4 215.3,1958.5 179.7,1878.5" fill="#53ffa4"/>
<polygon points="250.1,1964.8 285.3,1951.0 305.6,1928.0 270.4,1941.7" fill="#26ffd1"/>
<polygon points="194.3,1976.4 229.5,1998.5 250.1,1964.8 215.3,1958.5" fill="#0068ff"/>
<polygon points="305.6,1928.0 341.2,1927.6 361.5,1869.2 325.5,1903.7" fill="#ffea00"/>
<polygon points="137.9,1974.3 173.1,1998.7 194.3,1976.4 159.1,1936.4" fill="#00c0ff"/>
<polygon points="229.5,1998.5 264.7,1989.1 285.3,1951.0 250.1,1964.8" fill="#00b4ff"/>
<polygon points="285.3,1951.0 321.1,1951.6 341.2,1927.6 305.6,1928.0" fill="#9aff5d"/>
<polygon points="173.1,1998.7 208.4,2015.6 229.5,1998.5 194.3,1976.4" fill="#0040ff"/>
<polygon points="341.2,1927.6 377.1,1941.3 397.5,1878.3 361.5,1869.2" fill="#ff8600"/>
<polygon points="208.4,2015.6 243.9,2023.0 264.7,1989.1 229.5,1998.5" fill="#004cff"/>
<polygon points="321.1,1951.6 357.2,1962.3 377.1,1941.3 341.2,1927.6" fill="#b7ff40"/>
<polygon points="115.6,1979.0 151.6,2027.4 173.1,1998.7 137.9,1974.3" fill="#0094ff"/>
<polygon points="264.7,1989.1 300.5,1992.4 321.1,1951.6 285.3,1951.0" fill="#40ffb7"/>
<polygon points="377.1,1941.3 414.0,1927.6 434.4,1868.3 397.5,1878.3" fill="#ff3800"/>
<polygon points="151.6,2027.4 187.0,2043.2 208.4,2015.6 173.1,1998.7" fill="#0010ff"/>
<polygon points="357.2,1962.3 393.8,1969.6 414.0,1927.6 377.1,1941.3" fill="#deff19"/>
<polygon points="300.5,1992.4 336.8,2002.0 357.2,1962.3 321.1,1951.6" fill="#5dff9a"/>
<polygon points="243.9,2023.0 279.8,2024.7 300.5,1992.4 264.7,1989.1" fill="#00a0ff"/>
<polygon points="94.1,2025.3 129.9,2060.1 151.6,2027.4 115.6,1979.0" fill="#0044ff"/>
<polygon points="187.0,2043.2 222.6,2041.5 243.9,2023.0 208.4,2015.6" fill="#001cff"/>
<polygon points="414.0,1927.6 450.9,1935.8 471.5,1871.9 434.4,1868.3" fill="#ad0000"/>
<polygon points="129.9,2060.1 165.1,2054.8 187.0,2043.2 151.6,2027.4" fill="#0000e8"/>
<polygon points="336.8,2002.0 373.4,2012.5 393.8,1969.6 357.2,1962.3" fill="#66ff90"/>
<polygon points="393.8,1969.6 430.7,1980.5 450.9,1935.8 414.0,1927.6" fill="#ffdb00"/>
<polygon points="279.8,2024.7 316.2,2036.5 336.8,2002.0 300.5,1992.4" fill="#00c0ff"/>
<polygon points="72.3,2069.6 107.5,2079.0 129.9,2060.1 94.1,2025.3" fill="#0000bf"/>
<polygon points="222.6,2041.5 258.7,2049.5 279.8,2024.7 243.9,2023.0" fill="#0058ff"/>
<polygon points="450.9,1935.8 488.1,1948.6 508.9,1879.2 471.5,1871.9" fill="#9b0000"/>
<polygon points="165.1,2054.8 201.0,2063.2 222.6,2041.5 187.0,2043.2" fill="#0014ff"/>
<polygon points="373.4,2012.5 410.4,2024.0 430.7,1980.5 393.8,1969.6" fill="#6aff8d"/>
<polygon points="430.7,1980.5 468.0,1993.3 488.1,1948.6 450.9,1935.8" fill="#ffde00"/>
<polygon points="316.2,2036.5 352.9,2050.0 373.4,2012.5 336.8,2002.0" fill="#00bcff"/>
<polygon points="107.5,2079.0 142.9,2080.1 165.1,2054.8 129.9,2060.1" fill="#0000cd"/>
<polygon points="258.7,2049.5 295.3,2058.5 316.2,2036.5 279.8,2024.7" fill="#0074ff"/>
<polygon points="49.3,2090.6 84.6,2098.0 107.5,2079.0 72.3,2069.6" fill="#000084"/>
<polygon points="410.4,2024.0 447.8,2036.8 468.0,1993.3 430.7,1980.5" fill="#63ff94"/>
<polygon points="352.9,2050.0 390.0,2062.0 410.4,2024.0 373.4,2012.5" fill="#00b8ff"/>
<polygon points="201.0,2063.2 237.3,2067.0 258.7,2049.5 222.6,2041.5" fill="#004cff"/>
<polygon points="295.3,2058.5 332.2,2073.5 352.9,2050.0 316.2,2036.5" fill="#0068ff"/>
<polygon points="142.9,2080.1 179.0,2087.5 201.0,2063.2 165.1,2054.8" fill="#0008ff"/>
<polygon points="84.6,2098.0 120.5,2107.5 142.9,2080.1 107.5,2079.0" fill="#0000ad"/>
<polygon points="390.0,2062.0 427.6,2072.0 447.8,2036.8 410.4,2024.0" fill="#00b4ff"/>
<polygon points="237.3,2067.0 274.1,2077.8 295.3,2058.5 258.7,2049.5" fill="#0064ff"/>
<polygon points="332.2,2073.5 369.6,2084.5 390.0,2062.0 352.9,2050.0" fill="#005cff"/>
<polygon points="179.0,2087.5 215.5,2098.0 237.3,2067.0 201.0,2063.2" fill="#0028ff"/>
<polygon points="120.5,2107.5 156.7,2117.0 179.0,2087.5 142.9,2080.1" fill="#0000da"/>
<polygon points="274.1,2077.8 311.2,2094.3 332.2,2073.5 295.3,2058.5" fill="#0058ff"/>
<polygon points="369.6,2084.5 407.4,2093.3 427.6,2072.0 390.0,2062.0" fill="#0064ff"/>
<polygon points="215.5,2098.0 252.5,2110.5 274.1,2077.8 237.3,2067.0" fill="#0038ff"/>
<polygon points="311.2,2094.3 348.8,2105.8 369.6,2084.5 332.2,2073.5" fill="#0048ff"/>
<polygon points="156.7,2117.0 193.4,2125.4 215.5,2098.0 179.0,2087.5" fill="#0000f1"/>
<polygon points="252.5,2110.5 289.8,2123.2 311.2,2094.3 274.1,2077.8" fill="#002cff"/>
<polygon points="348.8,2105.8 386.9,2114.0 407.4,2093.3 369.6,2084.5" fill="#0058ff"/>
<polygon points="193.4,2125.4 230.6,2139.8 252.5,2110.5 215.5,2098.0" fill="#0000f6"/>
<polygon points="289.8,2123.2 327.6,2134.1 348.8,2105.8 311.2,2094.3" fill="#0024ff"/>
<polygon points="230.6,2139.8 268.1,2153.0 289.8,2123.2 252.5,2110.5" fill="#0000e8"/>
<polygon points="327.6,2134.1 365.8,2144.1 386.9,2114.0 348.8,2105.8" fill="#0030ff"/>
<polygon points="268.1,2153.0 306.0,2165.7 327.6,2134.1 289.8,2123.2" fill="#0000e3"/>
<polygon points="306.0,2165.7 344.5,2174.2 365.8,2144.1 327.6,2134.1" fill="#0000f6"/>
</g>
<path d="M15.3,2100.6 L354.3,2210.8 L535.1,2026.6 L546.0,1777.1 M33.1,2109.6 L37.8,2105.6 M371.4,2199.6 L363.6,2197.0 M68.7,2121.2 L73.4,2117.2 M392.4,2178.1 L384.7,2175.6 M104.7,2132.9 L109.3,2128.8 M413.0,2157.0 L405.3,2154.6 M141.1,2144.8 L145.7,2140.6 M433.3,2136.4 L425.6,2134.0 M177.8,2156.8 L182.4,2152.6 M453.1,2116.1 L445.5,2113.8 M215.0,2168.9 L219.6,2164.6 M472.6,2096.2 L465.0,2093.9 M252.6,2181.1 L257.1,2176.8 M491.7,2076.7 L484.2,2074.4 M290.7,2193.5 L295.1,2189.2 M510.4,2057.5 L503.0,2055.3 M329.1,2206.0 L333.5,2201.6 M528.8,2038.7 L521.4,2036.5 M551.1,1791.7 L542.0,1789.4 M549.4,1828.5 L540.4,1826.1 M547.8,1864.8 L538.8,1862.4 M546.2,1900.7 L537.2,1898.3 M544.6,1936.2 L535.7,1933.7 M543.0,1971.2 L534.2,1968.7 M541.4,2005.9 L532.7,2003.3" fill="none" stroke="#262626" stroke-width="1.30"/>
<text x="24.6" y="2146.3" font-size="17.4" text-anchor="middle" fill="#1f1f1f" font-family="Liberation Sans" textLength="23.1" lengthAdjust="spacingAndGlyphs">0.1</text>
<text x="386.7" y="2233.7" font-size="17.4" text-anchor="middle" fill="#1f1f1f" font-family="Liberation Sans" textLength="23.1" lengthAdjust="spacingAndGlyphs">0.1</text>
<text x="60.1" y="2158.0" font-size="17.4" text-anchor="middle" fill="#1f1f1f" font-family="Liberation Sans" textLength="23.1" lengthAdjust="spacingAndGlyphs">0.2</text>
<text x="407.5" y="2212.0" font-size="17.4" text-anchor="middle" fill="#1f1f1f" font-family="Liberation Sans" textLength="23.1" lengthAdjust="spacingAndGlyphs">0.2</text>
<text x="96.0" y="2169.9" font-size="17.4" text-anchor="middle" fill="#1f1f1f" font-family="Liberation Sans" textLength="23.1" lengthAdjust="spacingAndGlyphs">0.3</text>
<text x="427.9" y="2190.7" font-size="17.4" text-anchor="middle" fill="#1f1f1f" font-family="Liberation Sans" textLength="23.1" lengthAdjust="spacingAndGlyphs">0.3</text>
<text x="132.4" y="2181.9" font-size="17.4" text-anchor="middle" fill="#1f1f1f" font-family="Liberation Sans" textLength="23.1" lengthAdjust="spacingAndGlyphs">0.4</text>
<text x="448.0" y="2169.8" font-size="17.4" text-anchor="middle" fill="#1f1f1f" font-family="Liberation Sans" textLength="23.1" lengthAdjust="spacingAndGlyphs">0.4</text>
<text x="169.1" y="2194.1" font-size="17.4" text-anchor="middle" fill="#1f1f1f" font-family="Liberation Sans" textLength="23.1" lengthAdjust="spacingAndGlyphs">0.5</text>
<text x="467.6" y="2149.3" font-size="17.4" text-anchor="middle" fill="#1f1f1f" font-family="Liberation Sans" textLength="23.1" lengthAdjust="spacingAndGlyphs">0.5</text>
<text x="206.3" y="2206.3" font-size="17.4" text-anchor="middle" fill="#1f1f1f" font-family="Liberation Sans" textLength="23.1" lengthAdjust="spacingAndGlyphs">0.6</text>
<text x="486.9" y="2129.2" font-size="17.4" text-anchor="middle" fill="#1f1f1f" font-family="Liberation Sans" textLength="23.1" lengthAdjust="spacingAndGlyphs">0.6</text>
<text x="243.8" y="2218.8" font-size="17.4" text-anchor="middle" fill="#1f1f1f" font-family="Liberation Sans" textLength="23.1" lengthAdjust="spacingAndGlyphs">0.7</text>
<text x="505.9" y="2109.5" font-size="17.4" text-anchor="middle" fill="#1f1f1f" font-family="Liberation Sans" textLength="23.1" lengthAdjust="spacingAndGlyphs">0.7</text>
<text x="281.8" y="2231.3" font-size="17.4" text-anchor="middle" fill="#1f1f1f" font-family="Liberation Sans" textLength="23.1" lengthAdjust="spacingAndGlyphs">0.8</text>
<text x="524.5" y="2090.1" font-size="17.4" text-anchor="middle" fill="#1f1f1f" font-family="Liberation Sans" textLength="23.1" lengthAdjust="spacingAndGlyphs">0.8</text>
<text x="320.2" y="2244.0" font-size="17.4" text-anchor="middle" fill="#1f1f1f" font-family="Liberation Sans" textLength="23.1" lengthAdjust="spacingAndGlyphs">0.9</text>
<text x="542.7" y="2071.1" font-size="17.4" text-anchor="middle" fill="#1f1f1f" font-family="Liberation Sans" textLength="23.1" lengthAdjust="spacingAndGlyphs">0.9</text>
<text x="575.7" y="1799.7" font-size="17.4" text-anchor="middle" fill="#1f1f1f" font-family="Liberation Sans" textLength="37.0" lengthAdjust="spacingAndGlyphs">1400</text>
<text x="573.9" y="1836.5" font-size="17.4" text-anchor="middle" fill="#1f1f1f" font-family="Liberation Sans" textLength="37.0" lengthAdjust="spacingAndGlyphs">1200</text>
<text x="572.1" y="1872.9" font-size="17.4" text-anchor="middle" fill="#1f1f1f" font-family="Liberation Sans" textLength="37.0" lengthAdjust="spacingAndGlyphs">1000</text>
<text x="570.4" y="1908.8" font-size="17.4" text-anchor="middle" fill="#1f1f1f" font-family="Liberation Sans" textLength="27.7" lengthAdjust="spacingAndGlyphs">800</text>
<text x="568.6" y="1944.3" font-size="17.4" text-anchor="middle" fill="#1f1f1f" font-family="Liberation Sans" textLength="27.7" lengthAdjust="spacingAndGlyphs">600</text>
<text x="566.9" y="1979.3" font-size="17.4" text-anchor="middle" fill="#1f1f1f" font-family="Liberation Sans" textLength="27.7" lengthAdjust="spacingAndGlyphs">400</text>
<text x="565.2" y="2014.0" font-size="17.4" text-anchor="middle" fill="#1f1f1f" font-family="Liberation Sans" textLength="27.7" lengthAdjust="spacingAndGlyphs">200</text>
<text x="155.5" y="2217.6" font-size="17.4" text-anchor="middle" fill="#1f1f1f" font-family="Liberation Sans" textLength="102.6" lengthAdjust="spacingAndGlyphs" transform="rotate(18.0 155.5 2211.3)">UR Quantiles</text>
<text x="490.2" y="2167.0" font-size="17.4" text-anchor="middle" fill="#1f1f1f" font-family="Liberation Sans" textLength="113.6" lengthAdjust="spacingAndGlyphs" transform="rotate(-45.5 490.2 2160.7)">CO2 Quantiles</text>
<text x="601.4" y="1904.9" font-size="17.4" text-anchor="middle" fill="#1f1f1f" font-family="Liberation Sans" textLength="125.6" lengthAdjust="spacingAndGlyphs" transform="rotate(-87.5 601.4 1898.7)">QQR Coefficient</text>
<text x="273.0" y="1640.1" font-size="19.6" text-anchor="middle" fill="#1f1f1f" font-family="Liberation Sans" textLength="337.7" lengthAdjust="spacingAndGlyphs">3D Surface Plot of QQR Coefficients</text>
<rect x="619.5" y="1796.9" width="29.8" height="302.6" fill="url(#jet)" stroke="#262626" stroke-width="1.20"/>
<text x="659.8" y="1807.0" font-size="17.4" text-anchor="start" fill="#1f1f1f" font-family="Liberation Sans" textLength="27.7" lengthAdjust="spacingAndGlyphs">800</text>
<text x="659.8" y="1849.4" font-size="17.4" text-anchor="start" fill="#1f1f1f" font-family="Liberation Sans" textLength="27.7" lengthAdjust="spacingAndGlyphs">700</text>
<text x="659.8" y="1893.7" font-size="17.4" text-anchor="start" fill="#1f1f1f" font-family="Liberation Sans" textLength="27.7" lengthAdjust="spacingAndGlyphs">600</text>
<text x="659.8" y="1936.4" font-size="17.4" text-anchor="start" fill="#1f1f1f" font-family="Liberation Sans" textLength="27.7" lengthAdjust="spacingAndGlyphs">500</text>
<text x="659.8" y="1979.4" font-size="17.4" text-anchor="start" fill="#1f1f1f" font-family="Liberation Sans" textLength="27.7" lengthAdjust="spacingAndGlyphs">400</text>
<text x="659.8" y="2023.1" font-size="17.4" text-anchor="start" fill="#1f1f1f" font-family="Liberation Sans" textLength="27.7" lengthAdjust="spacingAndGlyphs">300</text>
<text x="659.8" y="2066.1" font-size="17.4" text-anchor="start" fill="#1f1f1f" font-family="Liberation Sans" textLength="27.7" lengthAdjust="spacingAndGlyphs">200</text>
<path d="M649.3,1800.7 h7.0 M649.3,1843.1 h7.0 M649.3,1887.4 h7.0 M649.3,1930.1 h7.0 M649.3,1973.1 h7.0 M649.3,2016.8 h7.0 M649.3,2059.8 h7.0" stroke="#262626" stroke-width="1.20"/>
</g>
<g id="plot6">
<polygon points="753.3,2104.5 947.0,1942.0 944.4,1707.3 741.9,1856.1" fill="#f8f8f8"/>
<polygon points="947.0,1942.0 1258.6,2032.6 1269.3,1790.1 944.4,1707.3" fill="#f1f1f1"/>
<polygon points="753.3,2104.5 1082.9,2211.6 1258.6,2032.6 947.0,1942.0" fill="#f5f5f5"/>
<path d="M773.3,2111.0 L966.0,1947.5 L964.1,1712.3 M755.8,1845.8 L766.6,2093.3 L1095.0,2199.3 M807.9,2122.2 L998.8,1957.0 L998.3,1721.0 M779.4,1828.5 L789.1,2074.5 L1115.5,2178.4 M842.9,2133.6 L1031.9,1966.7 L1032.8,1729.8 M802.5,1811.5 L811.2,2056.0 L1135.5,2158.0 M878.2,2145.1 L1065.4,1976.4 L1067.7,1738.7 M825.2,1794.9 L832.8,2037.8 L1155.2,2137.9 M914.0,2156.7 L1099.2,1986.2 L1102.9,1747.7 M847.4,1778.5 L854.1,2019.9 L1174.5,2118.2 M950.1,2168.5 L1133.3,1996.1 L1138.5,1756.7 M869.3,1762.4 L875.0,2002.4 L1193.5,2098.9 M986.6,2180.3 L1167.8,2006.2 L1174.5,1765.9 M890.7,1746.7 L895.6,1985.1 L1212.1,2080.0 M1023.6,2192.3 L1202.7,2016.3 L1210.9,1775.2 M911.8,1731.2 L915.7,1968.2 L1230.4,2061.3 M1060.9,2204.5 L1237.9,2026.5 L1247.6,1784.5 M932.5,1716.0 L935.6,1951.6 L1248.3,2043.1 M743.3,1887.2 L944.7,1736.6 L1267.9,1820.4 M745.3,1931.2 L945.2,1778.1 L1266.0,1863.3 M747.3,1974.6 L945.6,1819.0 L1264.2,1905.7 M749.3,2017.3 L946.1,1859.4 L1262.4,1947.4 M751.2,2059.4 L946.5,1899.2 L1260.5,1988.5" fill="none" stroke="#c3c3c3" stroke-width="1.22"/>
<g stroke="#000" stroke-width="1.31" stroke-linejoin="round">
<polygon points="933.3,1853.7 967.8,1964.4 987.5,1955.4 954.4,1940.1" fill="#0088ff"/>
<polygon points="967.8,1964.4 1001.4,1978.1 1020.8,1967.0 987.5,1955.4" fill="#0000c8"/>
<polygon points="1001.4,1978.1 1035.3,1988.6 1054.4,1976.8 1020.8,1967.0" fill="#0000bb"/>
<polygon points="1035.3,1988.6 1069.5,2002.1 1088.4,1987.7 1054.4,1976.8" fill="#0000b2"/>
<polygon points="947.7,1965.4 981.6,1988.6 1001.4,1978.1 967.8,1964.4" fill="#0000ff"/>
<polygon points="1069.5,2002.1 1104.0,2014.3 1122.7,1998.7 1088.4,1987.7" fill="#0000a4"/>
<polygon points="981.6,1988.6 1015.7,2001.5 1035.3,1988.6 1001.4,1978.1" fill="#0000e8"/>
<polygon points="912.5,1852.7 947.7,1965.4 967.8,1964.4 933.3,1853.7" fill="#80ff77"/>
<polygon points="1015.7,2001.5 1050.2,2015.8 1069.5,2002.1 1035.3,1988.6" fill="#0000d6"/>
<polygon points="1104.0,2014.3 1138.8,2025.8 1157.4,2009.2 1122.7,1998.7" fill="#00009b"/>
<polygon points="926.9,1954.9 961.4,1987.5 981.6,1988.6 947.7,1965.4" fill="#007cff"/>
<polygon points="1050.2,2015.8 1084.9,2030.1 1104.0,2014.3 1069.5,2002.1" fill="#0000bb"/>
<polygon points="1138.8,2025.8 1174.1,2036.6 1192.4,2019.6 1157.4,2009.2" fill="#000096"/>
<polygon points="961.4,1987.5 995.8,2014.0 1015.7,2001.5 981.6,1988.6" fill="#001cff"/>
<polygon points="1084.9,2030.1 1120.0,2042.6 1138.8,2025.8 1104.0,2014.3" fill="#0000a8"/>
<polygon points="995.8,2014.0 1030.5,2025.6 1050.2,2015.8 1015.7,2001.5" fill="#0000ff"/>
<polygon points="1174.1,2036.6 1209.8,2045.9 1227.8,2029.4 1192.4,2019.6" fill="#000096"/>
<polygon points="889.8,1782.1 926.9,1954.9 947.7,1965.4 912.5,1852.7" fill="#ff9400"/>
<polygon points="1120.0,2042.6 1155.5,2053.2 1174.1,2036.6 1138.8,2025.8" fill="#00009f"/>
<polygon points="1030.5,2025.6 1065.5,2040.8 1084.9,2030.1 1050.2,2015.8" fill="#0000e3"/>
<polygon points="905.6,1945.4 940.6,1990.4 961.4,1987.5 926.9,1954.9" fill="#26ffd1"/>
<polygon points="940.6,1990.4 975.5,2026.9 995.8,2014.0 961.4,1987.5" fill="#0068ff"/>
<polygon points="1065.5,2040.8 1100.8,2056.9 1120.0,2042.6 1084.9,2030.1" fill="#0000c4"/>
<polygon points="1155.5,2053.2 1191.4,2061.9 1209.8,2045.9 1174.1,2036.6" fill="#0000a4"/>
<polygon points="975.5,2026.9 1010.4,2035.6 1030.5,2025.6 995.8,2014.0" fill="#0020ff"/>
<polygon points="1100.8,2056.9 1136.5,2069.7 1155.5,2053.2 1120.0,2042.6" fill="#0000b2"/>
<polygon points="1010.4,2035.6 1045.7,2052.5 1065.5,2040.8 1030.5,2025.6" fill="#000cff"/>
<polygon points="867.9,1789.5 905.6,1945.4 926.9,1954.9 889.8,1782.1" fill="#800000"/>
<polygon points="884.4,1967.9 919.4,1996.7 940.6,1990.4 905.6,1945.4" fill="#6aff8d"/>
<polygon points="919.4,1996.7 954.8,2043.8 975.5,2026.9 940.6,1990.4" fill="#00a0ff"/>
<polygon points="1045.7,2052.5 1081.3,2071.5 1100.8,2056.9 1065.5,2040.8" fill="#0000f1"/>
<polygon points="1136.5,2069.7 1172.7,2078.6 1191.4,2061.9 1155.5,2053.2" fill="#0000b6"/>
<polygon points="954.8,2043.8 990.0,2053.6 1010.4,2035.6 975.5,2026.9" fill="#003cff"/>
<polygon points="1081.3,2071.5 1117.2,2086.6 1136.5,2069.7 1100.8,2056.9" fill="#0000c8"/>
<polygon points="847.4,1863.2 884.4,1967.9 905.6,1945.4 867.9,1789.5" fill="#ad0000"/>
<polygon points="990.0,2053.6 1025.5,2060.9 1045.7,2052.5 1010.4,2035.6" fill="#003cff"/>
<polygon points="862.7,1987.6 898.3,2026.9 919.4,1996.7 884.4,1967.9" fill="#60ff97"/>
<polygon points="898.3,2026.9 933.6,2052.9 954.8,2043.8 919.4,1996.7" fill="#00b4ff"/>
<polygon points="1117.2,2086.6 1153.6,2095.6 1172.7,2078.6 1136.5,2069.7" fill="#0000c4"/>
<polygon points="1025.5,2060.9 1061.4,2085.0 1081.3,2071.5 1045.7,2052.5" fill="#0010ff"/>
<polygon points="933.6,2052.9 969.1,2065.5 990.0,2053.6 954.8,2043.8" fill="#0058ff"/>
<polygon points="825.1,1882.2 862.7,1987.6 884.4,1967.9 847.4,1863.2" fill="#ff3400"/>
<polygon points="1061.4,2085.0 1097.5,2103.0 1117.2,2086.6 1081.3,2071.5" fill="#0000e8"/>
<polygon points="840.1,1987.6 876.9,2063.0 898.3,2026.9 862.7,1987.6" fill="#4dffaa"/>
<polygon points="876.9,2063.0 912.2,2076.8 933.6,2052.9 898.3,2026.9" fill="#0088ff"/>
<polygon points="969.1,2065.5 1004.9,2077.9 1025.5,2060.9 990.0,2053.6" fill="#005cff"/>
<polygon points="1097.5,2103.0 1134.1,2115.1 1153.6,2095.6 1117.2,2086.6" fill="#0000d1"/>
<polygon points="912.2,2076.8 947.8,2088.7 969.1,2065.5 933.6,2052.9" fill="#0068ff"/>
<polygon points="1004.9,2077.9 1041.0,2104.3 1061.4,2085.0 1025.5,2060.9" fill="#0030ff"/>
<polygon points="802.9,1913.8 840.1,1987.6 862.7,1987.6 825.1,1882.2" fill="#ff3400"/>
<polygon points="818.8,2046.6 854.8,2085.2 876.9,2063.0 840.1,1987.6" fill="#16ffe1"/>
<polygon points="1041.0,2104.3 1077.4,2119.2 1097.5,2103.0 1061.4,2085.0" fill="#0000ff"/>
<polygon points="854.8,2085.2 890.3,2094.3 912.2,2076.8 876.9,2063.0" fill="#0064ff"/>
<polygon points="947.8,2088.7 983.8,2099.4 1004.9,2077.9 969.1,2065.5" fill="#0060ff"/>
<polygon points="782.5,1998.1 818.8,2046.6 840.1,1987.6 802.9,1913.8" fill="#ffd000"/>
<polygon points="1077.4,2119.2 1114.3,2132.8 1134.1,2115.1 1097.5,2103.0" fill="#0000e3"/>
<polygon points="890.3,2094.3 926.0,2101.3 947.8,2088.7 912.2,2076.8" fill="#0068ff"/>
<polygon points="983.8,2099.4 1020.2,2119.9 1041.0,2104.3 1004.9,2077.9" fill="#0038ff"/>
<polygon points="1020.2,2119.9 1057.0,2135.0 1077.4,2119.2 1041.0,2104.3" fill="#0004ff"/>
<polygon points="926.0,2101.3 962.4,2116.1 983.8,2099.4 947.8,2088.7" fill="#0068ff"/>
<polygon points="1057.0,2135.0 1094.0,2150.9 1114.3,2132.8 1077.4,2119.2" fill="#0000fa"/>
<polygon points="962.4,2116.1 999.0,2133.0 1020.2,2119.9 983.8,2099.4" fill="#004cff"/>
<polygon points="999.0,2133.0 1036.0,2151.1 1057.0,2135.0 1020.2,2119.9" fill="#0024ff"/>
<polygon points="1036.0,2151.1 1073.4,2169.4 1094.0,2150.9 1057.0,2135.0" fill="#0000ff"/>
</g>
<path d="M753.3,2104.5 L1082.9,2211.6 L1258.6,2032.6 L1269.3,1790.1 M770.6,2113.3 L775.2,2109.4 M1099.5,2200.7 L1091.9,2198.3 M805.2,2124.6 L809.8,2120.6 M1119.9,2179.9 L1112.4,2177.5 M840.2,2136.0 L844.7,2132.0 M1140.0,2159.4 L1132.5,2157.0 M875.6,2147.5 L880.0,2143.5 M1159.6,2139.3 L1152.2,2137.0 M911.3,2159.1 L915.8,2155.0 M1178.9,2119.6 L1171.5,2117.3 M947.5,2170.9 L951.9,2166.8 M1197.8,2100.2 L1190.5,2098.0 M984.1,2182.8 L988.4,2178.6 M1216.4,2081.3 L1209.1,2079.1 M1021.0,2194.8 L1025.3,2190.6 M1234.6,2062.6 L1227.4,2060.5 M1058.4,2207.0 L1062.7,2202.7 M1252.6,2044.3 L1245.3,2042.2 M1273.4,1821.8 L1264.5,1819.5 M1271.4,1864.8 L1262.7,1862.4 M1269.5,1907.1 L1260.8,1904.7 M1267.7,1948.8 L1259.0,1946.4 M1265.8,1989.9 L1257.3,1987.5" fill="none" stroke="#262626" stroke-width="1.26"/>
<text x="762.3" y="2148.9" font-size="16.9" text-anchor="middle" fill="#1f1f1f" font-family="Liberation Sans" textLength="22.5" lengthAdjust="spacingAndGlyphs">0.1</text>
<text x="1114.3" y="2233.9" font-size="16.9" text-anchor="middle" fill="#1f1f1f" font-family="Liberation Sans" textLength="22.5" lengthAdjust="spacingAndGlyphs">0.1</text>
<text x="796.9" y="2160.4" font-size="16.9" text-anchor="middle" fill="#1f1f1f" font-family="Liberation Sans" textLength="22.5" lengthAdjust="spacingAndGlyphs">0.2</text>
<text x="1134.6" y="2212.8" font-size="16.9" text-anchor="middle" fill="#1f1f1f" font-family="Liberation Sans" textLength="22.5" lengthAdjust="spacingAndGlyphs">0.2</text>
<text x="831.8" y="2171.9" font-size="16.9" text-anchor="middle" fill="#1f1f1f" font-family="Liberation Sans" textLength="22.5" lengthAdjust="spacingAndGlyphs">0.3</text>
<text x="1154.4" y="2192.1" font-size="16.9" text-anchor="middle" fill="#1f1f1f" font-family="Liberation Sans" textLength="22.5" lengthAdjust="spacingAndGlyphs">0.3</text>
<text x="867.1" y="2183.6" font-size="16.9" text-anchor="middle" fill="#1f1f1f" font-family="Liberation Sans" textLength="22.5" lengthAdjust="spacingAndGlyphs">0.4</text>
<text x="1173.9" y="2171.8" font-size="16.9" text-anchor="middle" fill="#1f1f1f" font-family="Liberation Sans" textLength="22.5" lengthAdjust="spacingAndGlyphs">0.4</text>
<text x="902.8" y="2195.4" font-size="16.9" text-anchor="middle" fill="#1f1f1f" font-family="Liberation Sans" textLength="22.5" lengthAdjust="spacingAndGlyphs">0.5</text>
<text x="1193.0" y="2151.9" font-size="16.9" text-anchor="middle" fill="#1f1f1f" font-family="Liberation Sans" textLength="22.5" lengthAdjust="spacingAndGlyphs">0.5</text>
<text x="939.0" y="2207.3" font-size="16.9" text-anchor="middle" fill="#1f1f1f" font-family="Liberation Sans" textLength="22.5" lengthAdjust="spacingAndGlyphs">0.6</text>
<text x="1211.8" y="2132.4" font-size="16.9" text-anchor="middle" fill="#1f1f1f" font-family="Liberation Sans" textLength="22.5" lengthAdjust="spacingAndGlyphs">0.6</text>
<text x="975.5" y="2219.4" font-size="16.9" text-anchor="middle" fill="#1f1f1f" font-family="Liberation Sans" textLength="22.5" lengthAdjust="spacingAndGlyphs">0.7</text>
<text x="1230.2" y="2113.2" font-size="16.9" text-anchor="middle" fill="#1f1f1f" font-family="Liberation Sans" textLength="22.5" lengthAdjust="spacingAndGlyphs">0.7</text>
<text x="1012.4" y="2231.6" font-size="16.9" text-anchor="middle" fill="#1f1f1f" font-family="Liberation Sans" textLength="22.5" lengthAdjust="spacingAndGlyphs">0.8</text>
<text x="1248.3" y="2094.3" font-size="16.9" text-anchor="middle" fill="#1f1f1f" font-family="Liberation Sans" textLength="22.5" lengthAdjust="spacingAndGlyphs">0.8</text>
<text x="1049.7" y="2243.9" font-size="16.9" text-anchor="middle" fill="#1f1f1f" font-family="Liberation Sans" textLength="22.5" lengthAdjust="spacingAndGlyphs">0.9</text>
<text x="1266.1" y="2075.8" font-size="16.9" text-anchor="middle" fill="#1f1f1f" font-family="Liberation Sans" textLength="22.5" lengthAdjust="spacingAndGlyphs">0.9</text>
<text x="1297.3" y="1829.6" font-size="16.9" text-anchor="middle" fill="#1f1f1f" font-family="Liberation Sans" textLength="40.4" lengthAdjust="spacingAndGlyphs">0.010</text>
<text x="1295.2" y="1872.6" font-size="16.9" text-anchor="middle" fill="#1f1f1f" font-family="Liberation Sans" textLength="40.4" lengthAdjust="spacingAndGlyphs">0.008</text>
<text x="1293.1" y="1914.9" font-size="16.9" text-anchor="middle" fill="#1f1f1f" font-family="Liberation Sans" textLength="40.4" lengthAdjust="spacingAndGlyphs">0.006</text>
<text x="1291.0" y="1956.7" font-size="16.9" text-anchor="middle" fill="#1f1f1f" font-family="Liberation Sans" textLength="40.4" lengthAdjust="spacingAndGlyphs">0.004</text>
<text x="1289.0" y="1997.8" font-size="16.9" text-anchor="middle" fill="#1f1f1f" font-family="Liberation Sans" textLength="40.4" lengthAdjust="spacingAndGlyphs">0.002</text>
<text x="889.6" y="2218.2" font-size="16.9" text-anchor="middle" fill="#1f1f1f" font-family="Liberation Sans" textLength="110.4" lengthAdjust="spacingAndGlyphs" transform="rotate(18.0 889.6 2212.2)">CO2 Quantiles</text>
<text x="1215.0" y="2169.0" font-size="16.9" text-anchor="middle" fill="#1f1f1f" font-family="Liberation Sans" textLength="99.8" lengthAdjust="spacingAndGlyphs" transform="rotate(-45.5 1215.0 2163.0)">UR Quantiles</text>
<text x="1323.1" y="1914.3" font-size="16.9" text-anchor="middle" fill="#1f1f1f" font-family="Liberation Sans" textLength="122.1" lengthAdjust="spacingAndGlyphs" transform="rotate(-87.5 1323.1 1908.2)">QQR Coefficient</text>
<text x="1003.0" y="1655.9" font-size="19.1" text-anchor="middle" fill="#1f1f1f" font-family="Liberation Sans" textLength="328.3" lengthAdjust="spacingAndGlyphs">3D Surface Plot of QQR Coefficients</text>
<rect x="1339.6" y="1810.0" width="29.5" height="294.6" fill="url(#jet)" stroke="#262626" stroke-width="1.17"/>
<text x="1379.3" y="1827.8" font-size="16.9" text-anchor="start" fill="#1f1f1f" font-family="Liberation Sans" textLength="40.4" lengthAdjust="spacingAndGlyphs">0.007</text>
<text x="1379.3" y="1868.7" font-size="16.9" text-anchor="start" fill="#1f1f1f" font-family="Liberation Sans" textLength="40.4" lengthAdjust="spacingAndGlyphs">0.006</text>
<text x="1379.3" y="1907.9" font-size="16.9" text-anchor="start" fill="#1f1f1f" font-family="Liberation Sans" textLength="40.4" lengthAdjust="spacingAndGlyphs">0.005</text>
<text x="1379.3" y="1949.6" font-size="16.9" text-anchor="start" fill="#1f1f1f" font-family="Liberation Sans" textLength="40.4" lengthAdjust="spacingAndGlyphs">0.004</text>
<text x="1379.3" y="1990.1" font-size="16.9" text-anchor="start" fill="#1f1f1f" font-family="Liberation Sans" textLength="40.4" lengthAdjust="spacingAndGlyphs">0.003</text>
<text x="1379.3" y="2030.5" font-size="16.9" text-anchor="start" fill="#1f1f1f" font-family="Liberation Sans" textLength="40.4" lengthAdjust="spacingAndGlyphs">0.002</text>
<text x="1379.3" y="2071.5" font-size="16.9" text-anchor="start" fill="#1f1f1f" font-family="Liberation Sans" textLength="40.4" lengthAdjust="spacingAndGlyphs">0.001</text>
<path d="M1369.1,1821.7 h6.8 M1369.1,1862.6 h6.8 M1369.1,1901.8 h6.8 M1369.1,1943.5 h6.8 M1369.1,1984.0 h6.8 M1369.1,2024.4 h6.8 M1369.1,2065.4 h6.8" stroke="#262626" stroke-width="1.17"/>
</g>
<text x="385.3" y="709.0" font-size="45.3" text-anchor="middle" fill="#10263f" textLength="300.0" lengthAdjust="spacingAndGlyphs" style="font-family:'Liberation Serif',serif">(i)&#160;&#160;CO2 on GDP</text>
<text x="1009.0" y="709.0" font-size="45.3" text-anchor="middle" fill="#10263f" textLength="300.0" lengthAdjust="spacingAndGlyphs" style="font-family:'Liberation Serif',serif">(ii) GDP on CO2</text>
<text x="398.2" y="1523.0" font-size="45.3" text-anchor="middle" fill="#10263f" textLength="461.5" lengthAdjust="spacingAndGlyphs" style="font-family:'Liberation Serif',serif">(iii) CO2 emissions on ET</text>
<text x="1001.0" y="1523.0" font-size="45.3" text-anchor="middle" fill="#10263f" textLength="450.5" lengthAdjust="spacingAndGlyphs" style="font-family:'Liberation Serif',serif">(iv) ET on CO2emissions</text>
<text x="255.0" y="2340.4" font-size="45.3" text-anchor="middle" fill="#10263f" textLength="282.5" lengthAdjust="spacingAndGlyphs" style="font-family:'Liberation Serif',serif">(v) CO2 on UR</text>
<text x="1131.5" y="2340.4" font-size="45.3" text-anchor="middle" fill="#10263f" textLength="293.5" lengthAdjust="spacingAndGlyphs" style="font-family:'Liberation Serif',serif">(vi) UR on CO2</text>
</svg></body></html>
